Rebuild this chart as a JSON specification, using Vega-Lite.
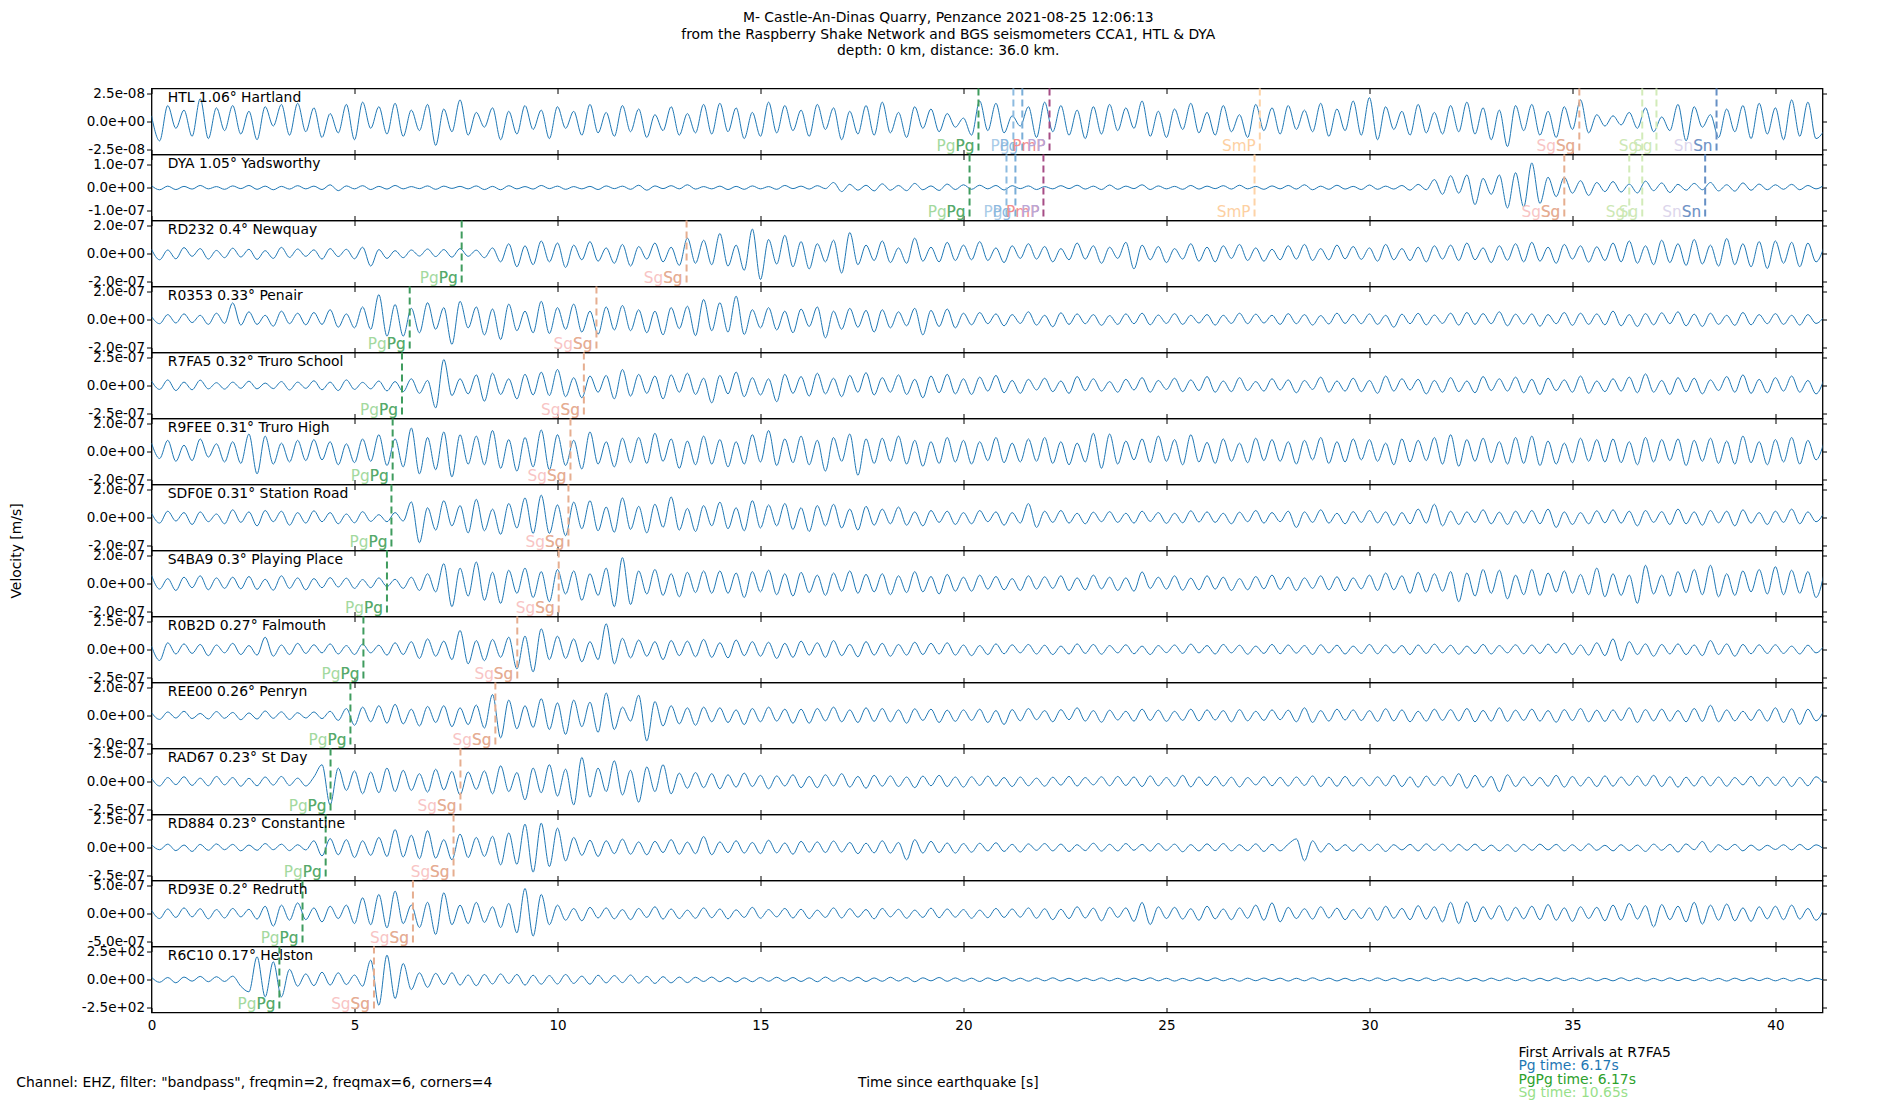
{
"$schema": "https://vega.github.io/schema/vega-lite/v6.json",
"background": "white",
"padding": {"left": 8.5, "top": 10.5, "right": 5, "bottom": 0},
"title": {"text": ["M- Castle-An-Dinas Quarry, Penzance 2021-08-25 12:06:13", "from the Raspberry Shake Network and BGS seismometers CCA1, HTL & DYA", "depth: 0 km, distance: 36.0 km."], "fontSize": 13.9, "fontWeight": "normal", "font": "DejaVu Sans", "lineHeight": 16.5, "offset": 27.5, "anchor": "middle", "dx": 30, "color": "black"},
"data": {"values": "k,t,v\n1,0,5\n1,0.2,-17\n1,0.4,14\n1,0.6,-6\n1,0.8,10\n1,1,-13\n1,1.2,20\n1,1.4,-15\n1,1.6,12\n1,1.8,-8\n1,2,14\n1,2.2,-11\n1,2.4,9\n1,2.6,-16\n1,2.8,13\n1,3,-4\n1,3.2,15\n1,3.4,-12\n1,3.6,16\n1,3.8,-9\n1,4,12\n1,4.2,-14\n1,4.4,7\n1,4.6,-10\n1,4.8,15\n1,5,-16\n1,5.2,17\n1,5.4,-6\n1,5.6,13\n1,5.8,-11\n1,6,16\n1,6.2,-13\n1,6.4,10\n1,6.6,-8\n1,6.8,15\n1,7,-21\n1,7.2,11\n1,7.4,-9\n1,7.6,19\n1,7.8,-12\n1,8,8\n1,8.2,-5\n1,8.4,12\n1,8.6,-16\n1,8.8,9\n1,9,-11\n1,9.2,14\n1,9.4,-7\n1,9.6,10\n1,9.8,-15\n1,10,13\n1,10.2,-6\n1,10.4,9\n1,10.6,-12\n1,10.8,15\n1,11,-10\n1,11.2,8\n1,11.4,-13\n1,11.6,14\n1,11.8,-9\n1,12,11\n1,12.2,-14\n1,12.4,6\n1,12.6,-8\n1,12.8,13\n1,13,-12\n1,13.2,7\n1,13.4,-10\n1,13.6,15\n1,13.8,-11\n1,14,16\n1,14.2,-9\n1,14.4,12\n1,14.6,-15\n1,14.8,8\n1,15,-13\n1,15.2,17\n1,15.4,-10\n1,15.6,14\n1,15.8,-8\n1,16,10\n1,16.2,-13\n1,16.4,15\n1,16.6,-7\n1,16.8,12\n1,17,-16\n1,17.2,9\n1,17.4,-11\n1,17.6,14\n1,17.8,-12\n1,18,17\n1,18.2,-10\n1,18.4,8\n1,18.6,-14\n1,18.8,13\n1,19,-6\n1,19.2,11\n1,19.4,-9\n1,19.6,7\n1,19.8,-5\n1,20,3\n1,20.2,-12\n1,20.4,18\n1,20.6,-8\n1,20.8,16\n1,21,-10\n1,21.2,5\n1,21.4,-4\n1,21.6,13\n1,21.8,-14\n1,22,17\n1,22.2,-9\n1,22.4,14\n1,22.6,-12\n1,22.8,10\n1,23,-15\n1,23.2,13\n1,23.4,-11\n1,23.6,15\n1,23.8,-8\n1,24,12\n1,24.2,-6\n1,24.4,18\n1,24.6,-13\n1,24.8,9\n1,25,-14\n1,25.2,11\n1,25.4,-7\n1,25.6,16\n1,25.8,-10\n1,26,8\n1,26.2,-12\n1,26.4,14\n1,26.6,-9\n1,26.8,6\n1,27,-14\n1,27.2,15\n1,27.4,-8\n1,27.6,12\n1,27.8,-11\n1,28,14\n1,28.2,-7\n1,28.4,10\n1,28.6,-9\n1,28.8,16\n1,29,-13\n1,29.2,11\n1,29.4,-8\n1,29.6,18\n1,29.8,-12\n1,30,21\n1,30.2,-16\n1,30.4,13\n1,30.6,-7\n1,30.8,9\n1,31,-12\n1,31.2,15\n1,31.4,-10\n1,31.6,8\n1,31.8,-11\n1,32,14\n1,32.2,-9\n1,32.4,17\n1,32.6,-11\n1,32.8,12\n1,33,-16\n1,33.2,10\n1,33.4,-22\n1,33.6,14\n1,33.8,-8\n1,34,15\n1,34.2,-12\n1,34.4,9\n1,34.6,-14\n1,34.8,13\n1,35,-7\n1,35.2,19\n1,35.4,-10\n1,35.6,6\n1,35.8,-4\n1,36,5\n1,36.2,-3\n1,36.4,8\n1,36.6,-6\n1,36.8,12\n1,37,-9\n1,37.2,4\n1,37.4,-8\n1,37.6,15\n1,37.8,-17\n1,38,13\n1,38.2,-5\n1,38.4,6\n1,38.6,-14\n1,38.8,11\n1,39,-9\n1,39.2,14\n1,39.4,-15\n1,39.6,16\n1,39.8,-11\n1,40,12\n1,40.2,-16\n1,40.4,19\n1,40.6,-13\n1,40.8,17\n1,41,-15\n1,41.2,-8\n2,0,8\n2,0.2,-10\n2,0.4,6\n2,0.6,-9\n2,0.8,5\n2,1,-7\n2,1.2,9\n2,1.4,-6\n2,1.6,4\n2,1.8,-8\n2,2,7\n2,2.2,-5\n2,2.4,9\n2,2.6,-8\n2,2.8,6\n2,3,-10\n2,3.2,5\n2,3.4,-7\n2,3.6,8\n2,3.8,-6\n2,4,6\n2,4.2,-9\n2,4.4,12\n2,4.6,-14\n2,4.8,7\n2,5,-6\n2,5.2,8\n2,5.4,-9\n2,5.6,5\n2,5.8,-7\n2,6,9\n2,6.2,-6\n2,6.4,4\n2,6.6,-5\n2,6.8,7\n2,7,-8\n2,7.2,6\n2,7.4,-4\n2,7.6,5\n2,7.8,-6\n2,8,7\n2,8.2,-9\n2,8.4,5\n2,8.6,-10\n2,8.8,8\n2,9,-6\n2,9.2,4\n2,9.4,-7\n2,9.6,9\n2,9.8,-5\n2,10,6\n2,10.2,-8\n2,10.4,4\n2,10.6,-6\n2,10.8,5\n2,11,-9\n2,11.2,7\n2,11.4,-5\n2,11.6,6\n2,11.8,-8\n2,12,10\n2,12.2,-12\n2,12.4,7\n2,12.6,-5\n2,12.8,8\n2,13,-6\n2,13.2,12\n2,13.4,-7\n2,13.6,4\n2,13.8,-6\n2,14,6\n2,14.2,-9\n2,14.4,5\n2,14.6,-8\n2,14.8,7\n2,15,-6\n2,15.2,4\n2,15.4,-8\n2,15.6,9\n2,15.8,-5\n2,16,6\n2,16.2,-7\n2,16.4,8\n2,16.6,-5\n2,16.8,22\n2,17,-18\n2,17.2,14\n2,17.4,-12\n2,17.6,10\n2,17.8,-15\n2,18,16\n2,18.2,-12\n2,18.4,9\n2,18.6,-14\n2,18.8,18\n2,19,-10\n2,19.2,7\n2,19.4,-13\n2,19.6,15\n2,19.8,-9\n2,20,12\n2,20.2,-8\n2,20.4,10\n2,20.6,-6\n2,20.8,9\n2,21,-11\n2,21.2,8\n2,21.4,-5\n2,21.6,7\n2,21.8,-9\n2,22,4\n2,22.2,-6\n2,22.4,8\n2,22.6,-5\n2,22.8,10\n2,23,-7\n2,23.2,6\n2,23.4,-9\n2,23.6,11\n2,23.8,-8\n2,24,6\n2,24.2,-5\n2,24.4,12\n2,24.6,-9\n2,24.8,7\n2,25,-6\n2,25.2,5\n2,25.4,-8\n2,25.6,9\n2,25.8,-7\n2,26,6\n2,26.2,-5\n2,26.4,8\n2,26.6,-7\n2,26.8,10\n2,27,-6\n2,27.2,5\n2,27.4,-8\n2,27.6,7\n2,27.8,-6\n2,28,9\n2,28.2,-7\n2,28.4,12\n2,28.6,-10\n2,28.8,6\n2,29,-8\n2,29.2,10\n2,29.4,-7\n2,29.6,5\n2,29.8,-9\n2,30,11\n2,30.2,-8\n2,30.4,6\n2,30.6,-7\n2,30.8,9\n2,31,-12\n2,31.2,14\n2,31.4,-10\n2,31.6,35\n2,31.8,-30\n2,32,52\n2,32.2,-25\n2,32.4,55\n2,32.6,-75\n2,32.8,40\n2,33,-30\n2,33.2,55\n2,33.4,-90\n2,33.6,65\n2,33.8,-85\n2,34,108\n2,34.2,-70\n2,34.4,45\n2,34.6,-40\n2,34.8,45\n2,35,-25\n2,35.2,30\n2,35.4,-35\n2,35.6,22\n2,35.8,-18\n2,36,26\n2,36.2,-20\n2,36.4,15\n2,36.6,-24\n2,36.8,28\n2,37,-14\n2,37.2,20\n2,37.4,-22\n2,37.6,14\n2,37.8,-12\n2,38,18\n2,38.2,-10\n2,38.4,22\n2,38.6,-15\n2,38.8,12\n2,39,-16\n2,39.2,20\n2,39.4,-12\n2,39.6,15\n2,39.8,-10\n2,40,12\n2,40.2,-8\n2,40.4,14\n2,40.6,-10\n2,40.8,9\n2,41,-6\n2,41.2,11\n3,0,30\n3,0.2,-45\n3,0.4,25\n3,0.6,-38\n3,0.8,42\n3,1,-20\n3,1.2,35\n3,1.4,-40\n3,1.6,22\n3,1.8,-30\n3,2,38\n3,2.2,-25\n3,2.4,30\n3,2.6,-42\n3,2.8,20\n3,3,-35\n3,3.2,44\n3,3.4,-28\n3,3.6,32\n3,3.8,-20\n3,4,26\n3,4.2,-40\n3,4.4,35\n3,4.6,-22\n3,4.8,30\n3,5,-38\n3,5.2,45\n3,5.4,-90\n3,5.6,28\n3,5.8,-35\n3,6,20\n3,6.2,-30\n3,6.4,25\n3,6.6,-18\n3,6.8,32\n3,7,-22\n3,7.2,28\n3,7.4,-26\n3,7.6,35\n3,7.8,-20\n3,8,24\n3,8.2,-30\n3,8.4,40\n3,8.6,-60\n3,8.8,70\n3,9,-95\n3,9.2,55\n3,9.4,-80\n3,9.6,90\n3,9.8,-60\n3,10,75\n3,10.2,-100\n3,10.4,60\n3,10.6,-45\n3,10.8,85\n3,11,-55\n3,11.2,40\n3,11.4,-70\n3,11.6,65\n3,11.8,-90\n3,12,50\n3,12.2,-40\n3,12.4,75\n3,12.6,-60\n3,12.8,45\n3,13,-85\n3,13.2,110\n3,13.4,-70\n3,13.6,95\n3,13.8,-80\n3,14,143\n3,14.2,-90\n3,14.4,60\n3,14.6,-120\n3,14.8,175\n3,15,-186\n3,15.2,100\n3,15.4,-75\n3,15.6,130\n3,15.8,-95\n3,16,85\n3,16.2,-110\n3,16.4,70\n3,16.6,-60\n3,16.8,95\n3,17,-140\n3,17.2,150\n3,17.4,-80\n3,17.6,60\n3,17.8,-50\n3,18,90\n3,18.2,-65\n3,18.4,40\n3,18.6,-70\n3,18.8,110\n3,19,-55\n3,19.2,45\n3,19.4,-60\n3,19.6,80\n3,19.8,-50\n3,20,60\n3,20.2,-45\n3,20.4,85\n3,20.6,-50\n3,20.8,40\n3,21,-65\n3,21.2,55\n3,21.4,-35\n3,21.6,70\n3,21.8,-40\n3,22,50\n3,22.2,-60\n3,22.4,35\n3,22.6,-45\n3,22.8,75\n3,23,-40\n3,23.2,55\n3,23.4,-70\n3,23.6,45\n3,23.8,-35\n3,24,80\n3,24.2,-110\n3,24.4,60\n3,24.6,-45\n3,24.8,50\n3,25,-65\n3,25.2,35\n3,25.4,-40\n3,25.6,70\n3,25.8,-55\n3,26,45\n3,26.2,-60\n3,26.4,55\n3,26.6,-35\n3,26.8,65\n3,27,-50\n3,27.2,40\n3,27.4,-55\n3,27.6,30\n3,27.8,-45\n3,28,55\n3,28.2,-40\n3,28.4,65\n3,28.6,-50\n3,28.8,35\n3,29,-45\n3,29.2,60\n3,29.4,-38\n3,29.6,50\n3,29.8,-42\n3,30,40\n3,30.2,-55\n3,30.4,65\n3,30.6,-45\n3,30.8,35\n3,31,-50\n3,31.2,45\n3,31.4,-60\n3,31.6,55\n3,31.8,-40\n3,32,60\n3,32.2,-50\n3,32.4,75\n3,32.6,-45\n3,32.8,40\n3,33,-65\n3,33.2,55\n3,33.4,-48\n3,33.6,70\n3,33.8,-60\n3,34,80\n3,34.2,-55\n3,34.4,45\n3,34.6,-70\n3,34.8,65\n3,35,-40\n3,35.2,55\n3,35.4,-62\n3,35.6,48\n3,35.8,-50\n3,36,75\n3,36.2,-60\n3,36.4,90\n3,36.6,-70\n3,36.8,55\n3,37,-80\n3,37.2,95\n3,37.4,-65\n3,37.6,70\n3,37.8,-85\n3,38,100\n3,38.2,-75\n3,38.4,60\n3,38.6,-90\n3,38.8,107\n3,39,-80\n3,39.2,70\n3,39.4,-95\n3,39.6,85\n3,39.8,-107\n3,40,90\n3,40.2,-70\n3,40.4,80\n3,40.6,-95\n3,40.8,75\n3,41,-60\n3,41.2,50\n4,0,20\n4,0.2,-30\n4,0.4,35\n4,0.6,-25\n4,0.8,40\n4,1,-22\n4,1.2,30\n4,1.4,-35\n4,1.6,45\n4,1.8,-28\n4,2,119\n4,2.2,-40\n4,2.4,55\n4,2.6,-35\n4,2.8,30\n4,3,-48\n4,3.2,60\n4,3.4,-30\n4,3.6,45\n4,3.8,-38\n4,4,50\n4,4.2,-35\n4,4.4,70\n4,4.6,-55\n4,4.8,40\n4,5,-60\n4,5.2,90\n4,5.4,-70\n4,5.6,178\n4,5.8,-119\n4,6,107\n4,6.2,-119\n4,6.4,80\n4,6.6,-95\n4,6.8,120\n4,7,-70\n4,7.2,85\n4,7.4,-178\n4,7.6,130\n4,7.8,-60\n4,8,90\n4,8.2,-110\n4,8.4,75\n4,8.6,-143\n4,8.8,110\n4,9,-80\n4,9.2,60\n4,9.4,-95\n4,9.6,130\n4,9.8,-100\n4,10,85\n4,10.2,-70\n4,10.4,110\n4,10.6,-90\n4,10.8,60\n4,11,-105\n4,11.2,90\n4,11.4,-75\n4,11.6,100\n4,11.8,-80\n4,12,70\n4,12.2,-95\n4,12.4,60\n4,12.6,-110\n4,12.8,85\n4,13,-65\n4,13.2,95\n4,13.4,-115\n4,13.6,143\n4,13.8,-80\n4,14,120\n4,14.2,-90\n4,14.4,167\n4,14.6,-107\n4,14.8,70\n4,15,-60\n4,15.2,85\n4,15.4,-75\n4,15.6,60\n4,15.8,-95\n4,16,75\n4,16.2,-50\n4,16.4,90\n4,16.6,-131\n4,16.8,60\n4,17,-70\n4,17.2,80\n4,17.4,-55\n4,17.6,65\n4,17.8,-90\n4,18,70\n4,18.2,-60\n4,18.4,55\n4,18.6,-45\n4,18.8,80\n4,19,-110\n4,19.2,65\n4,19.4,-50\n4,19.6,75\n4,19.8,-60\n4,20,45\n4,20.2,-38\n4,20.4,50\n4,20.6,-30\n4,20.8,40\n4,21,-45\n4,21.2,35\n4,21.4,-28\n4,21.6,55\n4,21.8,-40\n4,22,30\n4,22.2,-52\n4,22.4,48\n4,22.6,-35\n4,22.8,40\n4,23,-30\n4,23.2,35\n4,23.4,-42\n4,23.6,28\n4,23.8,-35\n4,24,40\n4,24.2,-30\n4,24.4,45\n4,24.6,-38\n4,24.8,32\n4,25,-28\n4,25.2,42\n4,25.4,-35\n4,25.6,30\n4,25.8,-25\n4,26,35\n4,26.2,-40\n4,26.4,30\n4,26.6,-28\n4,26.8,45\n4,27,-30\n4,27.2,38\n4,27.4,-25\n4,27.6,30\n4,27.8,-35\n4,28,42\n4,28.2,-30\n4,28.4,35\n4,28.6,-40\n4,28.8,28\n4,29,-32\n4,29.2,45\n4,29.4,-28\n4,29.6,36\n4,29.8,-30\n4,30,40\n4,30.2,-35\n4,30.4,30\n4,30.6,-55\n4,30.8,38\n4,31,-30\n4,31.2,44\n4,31.4,-38\n4,31.6,32\n4,31.8,-28\n4,32,45\n4,32.2,-40\n4,32.4,50\n4,32.6,-35\n4,32.8,42\n4,33,-30\n4,33.2,55\n4,33.4,-45\n4,33.6,38\n4,33.8,-32\n4,34,40\n4,34.2,-48\n4,34.4,35\n4,34.6,-30\n4,34.8,50\n4,35,-42\n4,35.2,45\n4,35.4,-35\n4,35.6,40\n4,35.8,-38\n4,36,60\n4,36.2,-45\n4,36.4,35\n4,36.6,-50\n4,36.8,42\n4,37,-38\n4,37.2,48\n4,37.4,-30\n4,37.6,55\n4,37.8,-45\n4,38,38\n4,38.2,-50\n4,38.4,45\n4,38.6,-35\n4,38.8,30\n4,39,-42\n4,39.2,50\n4,39.4,-38\n4,39.6,35\n4,39.8,-30\n4,40,42\n4,40.2,-35\n4,40.4,30\n4,40.6,-40\n4,40.8,35\n4,41,-28\n4,41.2,20\n5,0,40\n5,0.2,-35\n5,0.4,50\n5,0.6,-45\n5,0.8,30\n5,1,-38\n5,1.2,48\n5,1.4,-30\n5,1.6,25\n5,1.8,-32\n5,2,30\n5,2.2,-25\n5,2.4,38\n5,2.6,-30\n5,2.8,22\n5,3,-28\n5,3.2,35\n5,3.4,-40\n5,3.6,30\n5,3.8,-25\n5,4,42\n5,4.2,-38\n5,4.4,30\n5,4.6,-45\n5,4.8,50\n5,5,-35\n5,5.2,28\n5,5.4,-30\n5,5.6,40\n5,5.8,-48\n5,6,35\n5,6.2,-55\n5,6.4,60\n5,6.6,-70\n5,6.8,45\n5,7,-200\n5,7.2,232\n5,7.4,-90\n5,7.6,60\n5,7.8,-75\n5,8,95\n5,8.2,-140\n5,8.4,110\n5,8.6,-80\n5,8.8,60\n5,9,-120\n5,9.2,100\n5,9.4,-85\n5,9.6,120\n5,9.8,-90\n5,10,143\n5,10.2,-100\n5,10.4,70\n5,10.6,-110\n5,10.8,85\n5,11,-60\n5,11.2,90\n5,11.4,-120\n5,11.6,143\n5,11.8,-95\n5,12,100\n5,12.2,-70\n5,12.4,85\n5,12.6,-120\n5,12.8,95\n5,13,-60\n5,13.2,110\n5,13.4,-80\n5,13.6,65\n5,13.8,-155\n5,14,90\n5,14.2,-75\n5,14.4,120\n5,14.6,-100\n5,14.8,70\n5,15,-85\n5,15.2,60\n5,15.4,-145\n5,15.6,100\n5,15.8,-70\n5,16,80\n5,16.2,-95\n5,16.4,110\n5,16.6,-75\n5,16.8,65\n5,17,-100\n5,17.2,90\n5,17.4,-60\n5,17.6,115\n5,17.8,-85\n5,18,70\n5,18.2,-60\n5,18.4,95\n5,18.6,-80\n5,18.8,55\n5,19,-110\n5,19.2,85\n5,19.4,-65\n5,19.6,100\n5,19.8,-75\n5,20,60\n5,20.2,-80\n5,20.4,75\n5,20.6,-50\n5,20.8,90\n5,21,-65\n5,21.2,45\n5,21.4,-70\n5,21.6,55\n5,21.8,-40\n5,22,65\n5,22.2,-55\n5,22.4,40\n5,22.6,-70\n5,22.8,80\n5,23,-45\n5,23.2,60\n5,23.4,-50\n5,23.6,35\n5,23.8,-60\n5,24,55\n5,24.2,-40\n5,24.4,70\n5,24.6,-60\n5,24.8,45\n5,25,-35\n5,25.2,65\n5,25.4,-55\n5,25.6,50\n5,25.8,-45\n5,26,80\n5,26.2,-60\n5,26.4,40\n5,26.6,-55\n5,26.8,70\n5,27,-45\n5,27.2,35\n5,27.4,-50\n5,27.6,60\n5,27.8,-40\n5,28,50\n5,28.2,-65\n5,28.4,45\n5,28.6,-35\n5,28.8,75\n5,29,-60\n5,29.2,40\n5,29.4,-50\n5,29.6,65\n5,29.8,-55\n5,30,45\n5,30.2,-70\n5,30.4,85\n5,30.6,-50\n5,30.8,60\n5,31,-40\n5,31.2,55\n5,31.4,-75\n5,31.6,45\n5,31.8,-60\n5,32,70\n5,32.2,-55\n5,32.4,40\n5,32.6,-65\n5,32.8,80\n5,33,-45\n5,33.2,60\n5,33.4,-50\n5,33.6,75\n5,33.8,-65\n5,34,55\n5,34.2,-80\n5,34.4,65\n5,34.6,-45\n5,34.8,50\n5,35,-60\n5,35.2,85\n5,35.4,-70\n5,35.6,40\n5,35.8,-55\n5,36,60\n5,36.2,-50\n5,36.4,75\n5,36.6,-65\n5,36.8,104\n5,37,-60\n5,37.2,45\n5,37.4,-80\n5,37.6,70\n5,37.8,-55\n5,38,65\n5,38.2,-75\n5,38.4,50\n5,38.6,-45\n5,38.8,80\n5,39,-60\n5,39.2,95\n5,39.4,-70\n5,39.6,55\n5,39.8,-65\n5,40,70\n5,40.2,-50\n5,40.4,85\n5,40.6,-60\n5,40.8,45\n5,41,-75\n5,41.2,60\n6,0,60\n6,0.2,-50\n6,0.4,80\n6,0.6,-70\n6,0.8,45\n6,1,-65\n6,1.2,90\n6,1.4,-40\n6,1.6,55\n6,1.8,-75\n6,2,70\n6,2.2,-85\n6,2.4,125\n6,2.6,-160\n6,2.8,110\n6,3,-90\n6,3.2,60\n6,3.4,-75\n6,3.6,80\n6,3.8,-65\n6,4,85\n6,4.2,-60\n6,4.4,70\n6,4.6,-95\n6,4.8,55\n6,5,-80\n6,5.2,90\n6,5.4,-70\n6,5.6,120\n6,5.8,-100\n6,6,90\n6,6.2,-110\n6,6.4,168\n6,6.6,-160\n6,6.8,100\n6,7,-130\n6,7.2,140\n6,7.4,-182\n6,7.6,120\n6,7.8,-90\n6,8,110\n6,8.2,-95\n6,8.4,150\n6,8.6,-120\n6,8.8,85\n6,9,-140\n6,9.2,100\n6,9.4,-110\n6,9.6,154\n6,9.8,-130\n6,10,120\n6,10.2,-100\n6,10.4,80\n6,10.6,-125\n6,10.8,140\n6,11,-90\n6,11.2,70\n6,11.4,-110\n6,11.6,95\n6,11.8,-80\n6,12,100\n6,12.2,-85\n6,12.4,130\n6,12.6,-70\n6,12.8,90\n6,13,-120\n6,13.2,75\n6,13.4,-95\n6,13.6,110\n6,13.8,-90\n6,14,85\n6,14.2,-110\n6,14.4,70\n6,14.6,-90\n6,14.8,120\n6,15,-75\n6,15.2,150\n6,15.4,-100\n6,15.6,90\n6,15.8,-80\n6,16,110\n6,16.2,-95\n6,16.4,80\n6,16.6,-140\n6,16.8,100\n6,17,-70\n6,17.2,125\n6,17.4,-170\n6,17.6,90\n6,17.8,-85\n6,18,95\n6,18.2,-70\n6,18.4,110\n6,18.6,-90\n6,18.8,80\n6,19,-105\n6,19.2,70\n6,19.4,-85\n6,19.6,100\n6,19.8,-75\n6,20,80\n6,20.2,-90\n6,20.4,70\n6,20.6,-65\n6,20.8,100\n6,21,-80\n6,21.2,60\n6,21.4,-75\n6,21.6,90\n6,21.8,-70\n6,22,100\n6,22.2,-85\n6,22.4,70\n6,22.6,-95\n6,22.8,60\n6,23,-75\n6,23.2,130\n6,23.4,-120\n6,23.6,125\n6,23.8,-90\n6,24,75\n6,24.2,-60\n6,24.4,90\n6,24.6,-80\n6,24.8,110\n6,25,-70\n6,25.2,85\n6,25.4,-95\n6,25.6,120\n6,25.8,-75\n6,26,65\n6,26.2,-85\n6,26.4,90\n6,26.6,-70\n6,26.8,60\n6,27,-80\n6,27.2,95\n6,27.4,-65\n6,27.6,85\n6,27.8,-70\n6,28,70\n6,28.2,-90\n6,28.4,80\n6,28.6,-60\n6,28.8,100\n6,29,-85\n6,29.2,70\n6,29.4,-75\n6,29.6,90\n6,29.8,-60\n6,30,85\n6,30.2,-70\n6,30.4,60\n6,30.6,-95\n6,30.8,90\n6,31,-75\n6,31.2,80\n6,31.4,-65\n6,31.6,100\n6,31.8,-90\n6,32,120\n6,32.2,-105\n6,32.4,85\n6,32.6,-70\n6,32.8,95\n6,33,-80\n6,33.2,70\n6,33.4,-90\n6,33.6,100\n6,33.8,-85\n6,34,110\n6,34.2,-100\n6,34.4,75\n6,34.6,-90\n6,34.8,60\n6,35,-80\n6,35.2,95\n6,35.4,-70\n6,35.6,85\n6,35.8,-75\n6,36,90\n6,36.2,-80\n6,36.4,70\n6,36.6,-95\n6,36.8,100\n6,37,-75\n6,37.2,85\n6,37.4,-65\n6,37.6,90\n6,37.8,-100\n6,38,80\n6,38.2,-70\n6,38.4,95\n6,38.6,-85\n6,38.8,75\n6,39,-90\n6,39.2,110\n6,39.4,-80\n6,39.6,70\n6,39.8,-95\n6,40,85\n6,40.2,-75\n6,40.4,100\n6,40.6,-90\n6,40.8,80\n6,41,-60\n6,41.2,70\n7,0,30\n7,0.2,-40\n7,0.4,45\n7,0.6,-25\n7,0.8,35\n7,1,-50\n7,1.2,40\n7,1.4,-30\n7,1.6,25\n7,1.8,-45\n7,2,55\n7,2.2,-35\n7,2.4,40\n7,2.6,-60\n7,2.8,50\n7,3,-30\n7,3.2,45\n7,3.4,-55\n7,3.6,35\n7,3.8,-40\n7,4,48\n7,4.2,-30\n7,4.4,35\n7,4.6,-45\n7,4.8,25\n7,5,-38\n7,5.2,42\n7,5.4,-28\n7,5.6,20\n7,5.8,-30\n7,6,35\n7,6.2,-25\n7,6.4,112\n7,6.6,-180\n7,6.8,70\n7,7,-90\n7,7.2,120\n7,7.4,-60\n7,7.6,85\n7,7.8,-110\n7,8,130\n7,8.2,-95\n7,8.4,60\n7,8.6,-120\n7,8.8,100\n7,9,-75\n7,9.2,140\n7,9.4,-114\n7,9.6,160\n7,9.8,-114\n7,10,90\n7,10.2,-130\n7,10.4,110\n7,10.6,-80\n7,10.8,120\n7,11,-95\n7,11.2,75\n7,11.4,-105\n7,11.6,140\n7,11.8,-85\n7,12,80\n7,12.2,-110\n7,12.4,95\n7,12.6,-70\n7,12.8,147\n7,13,-90\n7,13.2,65\n7,13.4,-100\n7,13.6,85\n7,13.8,-60\n7,14,110\n7,14.2,-80\n7,14.4,70\n7,14.6,-95\n7,14.8,120\n7,15,-75\n7,15.2,90\n7,15.4,-60\n7,15.6,100\n7,15.8,-85\n7,16,70\n7,16.2,-100\n7,16.4,85\n7,16.6,-60\n7,16.8,95\n7,17,-75\n7,17.2,60\n7,17.4,-90\n7,17.6,80\n7,17.8,-55\n7,18,60\n7,18.2,-45\n7,18.4,75\n7,18.6,-55\n7,18.8,40\n7,19,-60\n7,19.2,50\n7,19.4,-35\n7,19.6,45\n7,19.8,-50\n7,20,35\n7,20.2,-45\n7,20.4,50\n7,20.6,-30\n7,20.8,40\n7,21,-55\n7,21.2,35\n7,21.4,-40\n7,21.6,100\n7,21.8,-71\n7,22,45\n7,22.2,-35\n7,22.4,50\n7,22.6,-40\n7,22.8,30\n7,23,-45\n7,23.2,38\n7,23.4,-30\n7,23.6,42\n7,23.8,-35\n7,24,30\n7,24.2,-40\n7,24.4,45\n7,24.6,-28\n7,24.8,35\n7,25,-42\n7,25.2,30\n7,25.4,-38\n7,25.6,48\n7,25.8,-32\n7,26,40\n7,26.2,-35\n7,26.4,30\n7,26.6,-45\n7,26.8,38\n7,27,-30\n7,27.2,50\n7,27.4,-40\n7,27.6,35\n7,27.8,-30\n7,28,45\n7,28.2,-71\n7,28.4,40\n7,28.6,-35\n7,28.8,55\n7,29,-40\n7,29.2,30\n7,29.4,-45\n7,29.6,42\n7,29.8,-35\n7,30,50\n7,30.2,-38\n7,30.4,40\n7,30.6,-55\n7,30.8,35\n7,31,-45\n7,31.2,60\n7,31.4,-40\n7,31.6,95\n7,31.8,-60\n7,32,45\n7,32.2,-50\n7,32.4,40\n7,32.6,-35\n7,32.8,55\n7,33,-45\n7,33.2,38\n7,33.4,-50\n7,33.6,45\n7,33.8,-40\n7,34,50\n7,34.2,-45\n7,34.4,60\n7,34.6,-71\n7,34.8,40\n7,35,-50\n7,35.2,35\n7,35.4,-45\n7,35.6,48\n7,35.8,-38\n7,36,55\n7,36.2,-40\n7,36.4,45\n7,36.6,-60\n7,36.8,50\n7,37,-35\n7,37.2,42\n7,37.4,-50\n7,37.6,60\n7,37.8,-45\n7,38,40\n7,38.2,-55\n7,38.4,50\n7,38.6,-38\n7,38.8,45\n7,39,-60\n7,39.2,55\n7,39.4,-40\n7,39.6,35\n7,39.8,-50\n7,40,45\n7,40.2,-35\n7,40.4,60\n7,40.6,-45\n7,40.8,40\n7,41,-30\n7,41.2,35\n8,0,58\n8,0.2,-40\n8,0.4,35\n8,0.6,-50\n8,0.8,45\n8,1,-30\n8,1.2,55\n8,1.4,-45\n8,1.6,40\n8,1.8,-35\n8,2,45\n8,2.2,-38\n8,2.4,50\n8,2.6,-42\n8,2.8,30\n8,3,-48\n8,3.2,55\n8,3.4,-35\n8,3.6,40\n8,3.8,-45\n8,4,35\n8,4.2,-30\n8,4.4,42\n8,4.6,-25\n8,4.8,38\n8,5,-35\n8,5.2,28\n8,5.4,-30\n8,5.6,40\n8,5.8,-22\n8,6,30\n8,6.2,-35\n8,6.4,45\n8,6.6,-50\n8,6.8,70\n8,7,-60\n8,7.2,142\n8,7.4,-166\n8,7.6,110\n8,7.8,-90\n8,8,154\n8,8.2,-120\n8,8.4,80\n8,8.6,-142\n8,8.8,95\n8,9,-70\n8,9.2,110\n8,9.4,-100\n8,9.6,85\n8,9.8,-130\n8,10,100\n8,10.2,-75\n8,10.4,90\n8,10.6,-120\n8,10.8,70\n8,11,-85\n8,11.2,110\n8,11.4,-166\n8,11.6,185\n8,11.8,-150\n8,12,90\n8,12.2,-75\n8,12.4,100\n8,12.6,-85\n8,12.8,70\n8,13,-95\n8,13.2,80\n8,13.4,-65\n8,13.6,90\n8,13.8,-70\n8,14,90\n8,14.2,-70\n8,14.4,75\n8,14.6,-100\n8,14.8,85\n8,15,-60\n8,15.2,95\n8,15.4,-80\n8,15.6,70\n8,15.8,-90\n8,16,80\n8,16.2,-65\n8,16.4,60\n8,16.6,-85\n8,16.8,75\n8,17,-55\n8,17.2,90\n8,17.4,-70\n8,17.6,65\n8,17.8,-60\n8,18,70\n8,18.2,-80\n8,18.4,55\n8,18.6,-65\n8,18.8,85\n8,19,-60\n8,19.2,50\n8,19.4,-75\n8,19.6,65\n8,19.8,-55\n8,20,45\n8,20.2,-55\n8,20.4,60\n8,20.6,-40\n8,20.8,50\n8,21,-45\n8,21.2,35\n8,21.4,-50\n8,21.6,55\n8,21.8,-40\n8,22,48\n8,22.2,-35\n8,22.4,55\n8,22.6,-50\n8,22.8,40\n8,23,-45\n8,23.2,60\n8,23.4,-38\n8,23.6,45\n8,23.8,-50\n8,24,40\n8,24.2,-55\n8,24.4,83\n8,24.6,-35\n8,24.8,45\n8,25,-40\n8,25.2,55\n8,25.4,-48\n8,25.6,38\n8,25.8,-45\n8,26,55\n8,26.2,-40\n8,26.4,45\n8,26.6,-50\n8,26.8,35\n8,27,-45\n8,27.2,50\n8,27.4,-38\n8,27.6,60\n8,27.8,-42\n8,28,45\n8,28.2,-50\n8,28.4,40\n8,28.6,-35\n8,28.8,55\n8,29,-45\n8,29.2,48\n8,29.4,-52\n8,29.6,40\n8,29.8,-38\n8,30,60\n8,30.2,-50\n8,30.4,75\n8,30.6,-45\n8,30.8,55\n8,31,-70\n8,31.2,80\n8,31.4,-60\n8,31.6,70\n8,31.8,-55\n8,32,85\n8,32.2,-130\n8,32.4,75\n8,32.6,-90\n8,32.8,100\n8,33,-70\n8,33.2,95\n8,33.4,-110\n8,33.6,60\n8,33.8,-80\n8,34,100\n8,34.2,-85\n8,34.4,75\n8,34.6,-60\n8,34.8,90\n8,35,-70\n8,35.2,65\n8,35.4,-80\n8,35.6,110\n8,35.8,-95\n8,36,70\n8,36.2,-85\n8,36.4,60\n8,36.6,-142\n8,36.8,130\n8,37,-75\n8,37.2,60\n8,37.4,-90\n8,37.6,85\n8,37.8,-65\n8,38,100\n8,38.2,-80\n8,38.4,130\n8,38.6,-95\n8,38.8,70\n8,39,-85\n8,39.2,90\n8,39.4,-60\n8,39.6,100\n8,39.8,-75\n8,40,120\n8,40.2,-80\n8,40.4,95\n8,40.6,-70\n8,40.8,85\n8,41,-100\n8,41.2,75\n9,0,30\n9,0.2,-98\n9,0.4,60\n9,0.6,-40\n9,0.8,50\n9,1,-35\n9,1.2,45\n9,1.4,-55\n9,1.6,40\n9,1.8,-30\n9,2,55\n9,2.2,-45\n9,2.4,35\n9,2.6,-50\n9,2.8,110\n9,3,-60\n9,3.2,40\n9,3.4,-45\n9,3.6,55\n9,3.8,-35\n9,4,42\n9,4.2,-30\n9,4.4,50\n9,4.6,-40\n9,4.8,35\n9,5,-45\n9,5.2,48\n9,5.4,-30\n9,5.6,38\n9,5.8,-50\n9,6,60\n9,6.2,-45\n9,6.4,70\n9,6.6,-80\n9,6.8,95\n9,7,-60\n9,7.2,75\n9,7.4,-90\n9,7.6,170\n9,7.8,-128\n9,8,80\n9,8.2,-100\n9,8.4,90\n9,8.6,-70\n9,8.8,110\n9,9,-173\n9,9.2,120\n9,9.4,-200\n9,9.6,185\n9,9.8,-90\n9,10,120\n9,10.2,-80\n9,10.4,95\n9,10.6,-110\n9,10.8,70\n9,11,-90\n9,11.2,230\n9,11.4,-128\n9,11.6,100\n9,11.8,-75\n9,12,85\n9,12.2,-60\n9,12.4,70\n9,12.6,-90\n9,12.8,80\n9,13,-55\n9,13.2,75\n9,13.4,-65\n9,13.6,90\n9,13.8,-70\n9,14,60\n9,14.2,-75\n9,14.4,85\n9,14.6,-55\n9,14.8,70\n9,15,-60\n9,15.2,65\n9,15.4,-80\n9,15.6,55\n9,15.8,-70\n9,16,75\n9,16.2,-50\n9,16.4,60\n9,16.6,-70\n9,16.8,80\n9,17,-55\n9,17.2,45\n9,17.4,-65\n9,17.6,70\n9,17.8,-50\n9,18,55\n9,18.2,-60\n9,18.4,45\n9,18.6,-50\n9,18.8,65\n9,19,-45\n9,19.2,55\n9,19.4,-40\n9,19.6,60\n9,19.8,-50\n9,20,40\n9,20.2,-55\n9,20.4,35\n9,20.6,-45\n9,20.8,50\n9,21,-38\n9,21.2,42\n9,21.4,-30\n9,21.6,45\n9,21.8,-40\n9,22,38\n9,22.2,-45\n9,22.4,30\n9,22.6,-40\n9,22.8,50\n9,23,-35\n9,23.2,45\n9,23.4,-42\n9,23.6,35\n9,23.8,-30\n9,24,42\n9,24.2,-38\n9,24.4,30\n9,24.6,-45\n9,24.8,35\n9,25,-28\n9,25.2,40\n9,25.4,-35\n9,25.6,48\n9,25.8,-30\n9,26,35\n9,26.2,-40\n9,26.4,45\n9,26.6,-30\n9,26.8,38\n9,27,-42\n9,27.2,30\n9,27.4,-35\n9,27.6,45\n9,27.8,-38\n9,28,40\n9,28.2,-32\n9,28.4,35\n9,28.6,-45\n9,28.8,42\n9,29,-30\n9,29.2,38\n9,29.4,-40\n9,29.6,30\n9,29.8,-35\n9,30,45\n9,30.2,-38\n9,30.4,40\n9,30.6,-30\n9,30.8,35\n9,31,-45\n9,31.2,40\n9,31.4,-35\n9,31.6,48\n9,31.8,-30\n9,32,38\n9,32.2,-42\n9,32.4,30\n9,32.6,-35\n9,32.8,45\n9,33,-40\n9,33.2,35\n9,33.4,-30\n9,33.6,42\n9,33.8,-38\n9,34,40\n9,34.2,-35\n9,34.4,48\n9,34.6,-30\n9,34.8,55\n9,35,-45\n9,35.2,40\n9,35.4,-50\n9,35.6,60\n9,35.8,-55\n9,36,95\n9,36.2,-100\n9,36.4,70\n9,36.6,-45\n9,36.8,50\n9,37,-60\n9,37.2,45\n9,37.4,-40\n9,37.6,50\n9,37.8,-45\n9,38,40\n9,38.2,-55\n9,38.4,80\n9,38.6,-45\n9,38.8,50\n9,39,-60\n9,39.2,45\n9,39.4,-38\n9,39.6,42\n9,39.8,-35\n9,40,42\n9,40.2,-35\n9,40.4,30\n9,40.6,-40\n9,40.8,38\n9,41,-30\n9,41.2,35\n10,0,20\n10,0.2,-28\n10,0.4,25\n10,0.6,-18\n10,0.8,30\n10,1,-22\n10,1.2,15\n10,1.4,-25\n10,1.6,28\n10,1.8,-20\n10,2,22\n10,2.2,-30\n10,2.4,18\n10,2.6,-25\n10,2.8,32\n10,3,-20\n10,3.2,26\n10,3.4,-28\n10,3.6,20\n10,3.8,-18\n10,4,25\n10,4.2,-22\n10,4.4,30\n10,4.6,-35\n10,4.8,50\n10,5,-70\n10,5.2,60\n10,5.4,-45\n10,5.6,70\n10,5.8,-55\n10,6,80\n10,6.2,-60\n10,6.4,45\n10,6.6,-75\n10,6.8,65\n10,7,-50\n10,7.2,70\n10,7.4,-80\n10,7.6,55\n10,7.8,-65\n10,8,75\n10,8.2,-90\n10,8.4,150\n10,8.6,-160\n10,8.8,110\n10,9,-95\n10,9.2,70\n10,9.4,-85\n10,9.6,120\n10,9.8,-100\n10,10,90\n10,10.2,-135\n10,10.4,110\n10,10.6,-80\n10,10.8,95\n10,11,-120\n10,11.2,161\n10,11.4,-100\n10,11.6,60\n10,11.8,-40\n10,12,145\n10,12.2,-182\n10,12.4,100\n10,12.6,-75\n10,12.8,70\n10,13,-60\n10,13.2,55\n10,13.4,-70\n10,13.6,60\n10,13.8,-45\n10,14,55\n10,14.2,-50\n10,14.4,40\n10,14.6,-65\n10,14.8,50\n10,15,-45\n10,15.2,60\n10,15.4,-40\n10,15.6,45\n10,15.8,-55\n10,16,45\n10,16.2,-55\n10,16.4,50\n10,16.6,-38\n10,16.8,60\n10,17,-45\n10,17.2,40\n10,17.4,-50\n10,17.6,55\n10,17.8,-42\n10,18,50\n10,18.2,-45\n10,18.4,40\n10,18.6,-55\n10,18.8,48\n10,19,-35\n10,19.2,45\n10,19.4,-50\n10,19.6,38\n10,19.8,-42\n10,20,40\n10,20.2,-35\n10,20.4,45\n10,20.6,-50\n10,20.8,35\n10,21,-64\n10,21.2,42\n10,21.4,-38\n10,21.6,50\n10,21.8,-30\n10,22,35\n10,22.2,-45\n10,22.4,42\n10,22.6,-30\n10,22.8,55\n10,23,-40\n10,23.2,35\n10,23.4,-48\n10,23.6,38\n10,23.8,-32\n10,24,30\n10,24.2,-40\n10,24.4,45\n10,24.6,-35\n10,24.8,38\n10,25,-42\n10,25.2,30\n10,25.4,-35\n10,25.6,45\n10,25.8,-38\n10,26,40\n10,26.2,-32\n10,26.4,35\n10,26.6,-45\n10,26.8,42\n10,27,-38\n10,27.2,30\n10,27.4,-35\n10,27.6,40\n10,27.8,-30\n10,28,38\n10,28.2,-45\n10,28.4,55\n10,28.6,-50\n10,28.8,35\n10,29,-40\n10,29.2,45\n10,29.4,-32\n10,29.6,40\n10,29.8,-36\n10,30,35\n10,30.2,-42\n10,30.4,48\n10,30.6,-38\n10,30.8,40\n10,31,-45\n10,31.2,30\n10,31.4,-40\n10,31.6,45\n10,31.8,-35\n10,32,42\n10,32.2,-38\n10,32.4,50\n10,32.6,-45\n10,32.8,36\n10,33,-40\n10,33.2,55\n10,33.4,-42\n10,33.6,38\n10,33.8,-35\n10,34,45\n10,34.2,-40\n10,34.4,35\n10,34.6,-48\n10,34.8,42\n10,35,-36\n10,35.2,50\n10,35.4,-45\n10,35.6,38\n10,35.8,-42\n10,36,40\n10,36.2,-35\n10,36.4,55\n10,36.6,-50\n10,36.8,42\n10,37,-38\n10,37.2,45\n10,37.4,-40\n10,37.6,35\n10,37.8,-45\n10,38,50\n10,38.2,-42\n10,38.4,73\n10,38.6,-45\n10,38.8,40\n10,39,-38\n10,39.2,30\n10,39.4,-35\n10,39.6,42\n10,39.8,-40\n10,40,55\n10,40.2,-50\n10,40.4,48\n10,40.6,-64\n10,40.8,45\n10,41,-38\n10,41.2,40\n11,0,30\n11,0.2,-40\n11,0.4,35\n11,0.6,-28\n11,0.8,42\n11,1,-35\n11,1.2,30\n11,1.4,-38\n11,1.6,45\n11,1.8,-30\n11,2,35\n11,2.2,-42\n11,2.4,28\n11,2.6,-38\n11,2.8,40\n11,3,-32\n11,3.2,45\n11,3.4,-35\n11,3.6,30\n11,3.8,-40\n11,4,40\n11,4.2,150\n11,4.4,-209\n11,4.6,120\n11,4.8,-80\n11,5,95\n11,5.2,-110\n11,5.4,85\n11,5.6,-100\n11,5.8,120\n11,6,-90\n11,6.2,100\n11,6.4,-80\n11,6.6,70\n11,6.8,-95\n11,7,110\n11,7.2,-75\n11,7.4,90\n11,7.6,-120\n11,7.8,85\n11,8,-70\n11,8.2,95\n11,8.4,-110\n11,8.6,140\n11,8.8,-90\n11,9,80\n11,9.2,-164\n11,9.4,120\n11,9.6,-100\n11,9.8,150\n11,10,-130\n11,10.2,110\n11,10.4,-209\n11,10.6,215\n11,10.8,-140\n11,11,120\n11,11.2,-90\n11,11.4,185\n11,11.6,-120\n11,11.8,100\n11,12,-185\n11,12.2,130\n11,12.4,-90\n11,12.6,150\n11,12.8,-110\n11,13,75\n11,13.2,-60\n11,13.4,80\n11,13.6,-55\n11,13.8,70\n11,14,-65\n11,14.2,60\n11,14.4,-50\n11,14.6,75\n11,14.8,-45\n11,15,55\n11,15.2,-65\n11,15.4,50\n11,15.6,-40\n11,15.8,60\n11,16,-55\n11,16.2,45\n11,16.4,-55\n11,16.6,60\n11,16.8,-40\n11,17,70\n11,17.2,-50\n11,17.4,45\n11,17.6,-60\n11,17.8,55\n11,18,-42\n11,18.2,50\n11,18.4,-45\n11,18.6,40\n11,18.8,-55\n11,19,48\n11,19.2,-38\n11,19.4,55\n11,19.6,-45\n11,19.8,40\n11,20,-50\n11,20.2,42\n11,20.4,-35\n11,20.6,48\n11,20.8,-40\n11,21,35\n11,21.2,-45\n11,21.4,40\n11,21.6,-38\n11,21.8,30\n11,22,-42\n11,22.2,38\n11,22.4,-32\n11,22.6,45\n11,22.8,-40\n11,23,35\n11,23.2,-30\n11,23.4,42\n11,23.6,-38\n11,23.8,45\n11,24,-35\n11,24.2,40\n11,24.4,-45\n11,24.6,50\n11,24.8,-38\n11,25,35\n11,25.2,-42\n11,25.4,55\n11,25.6,-48\n11,25.8,40\n11,26,-35\n11,26.2,45\n11,26.4,-40\n11,26.6,38\n11,26.8,-48\n11,27,35\n11,27.2,-30\n11,27.4,42\n11,27.6,-38\n11,27.8,36\n11,28,-40\n11,28.2,40\n11,28.4,-35\n11,28.6,50\n11,28.8,-45\n11,29,38\n11,29.2,-42\n11,29.4,45\n11,29.6,-40\n11,29.8,35\n11,30,-38\n11,30.2,42\n11,30.4,-38\n11,30.6,55\n11,30.8,-45\n11,31,40\n11,31.2,-50\n11,31.4,48\n11,31.6,-35\n11,31.8,45\n11,32,-40\n11,32.2,70\n11,32.4,-60\n11,32.6,55\n11,32.8,-50\n11,33,45\n11,33.2,-90\n11,33.4,60\n11,33.6,-45\n11,33.8,40\n11,34,-38\n11,34.2,35\n11,34.4,-42\n11,34.6,55\n11,34.8,-50\n11,35,45\n11,35.2,-40\n11,35.4,38\n11,35.6,-45\n11,35.8,50\n11,36,-42\n11,36.2,40\n11,36.4,-35\n11,36.6,48\n11,36.8,-38\n11,37,55\n11,37.2,-45\n11,37.4,42\n11,37.6,-50\n11,37.8,38\n11,38,-40\n11,38.2,45\n11,38.4,-38\n11,38.6,40\n11,38.8,-42\n11,39,35\n11,39.2,-30\n11,39.4,45\n11,39.6,-40\n11,39.8,38\n11,40,-35\n11,40.2,40\n11,40.4,-45\n11,40.6,35\n11,40.8,-38\n11,41,42\n11,41.2,-30\n12,0,25\n12,0.2,-20\n12,0.4,30\n12,0.6,-28\n12,0.8,22\n12,1,-35\n12,1.2,28\n12,1.4,-25\n12,1.6,32\n12,1.8,-20\n12,2,28\n12,2.2,-30\n12,2.4,22\n12,2.6,-25\n12,2.8,35\n12,3,-20\n12,3.2,30\n12,3.4,-28\n12,3.6,25\n12,3.8,-22\n12,4,60\n12,4.2,-75\n12,4.4,80\n12,4.6,-65\n12,4.8,70\n12,5,-90\n12,5.2,60\n12,5.4,-70\n12,5.6,90\n12,5.8,-80\n12,6,160\n12,6.2,-85\n12,6.4,110\n12,6.6,-100\n12,6.8,150\n12,7,-95\n12,7.2,70\n12,7.4,-110\n12,7.6,120\n12,7.8,-90\n12,8,90\n12,8.2,-80\n12,8.4,100\n12,8.6,-155\n12,8.8,130\n12,9,-150\n12,9.2,209\n12,9.4,-220\n12,9.6,218\n12,9.8,-170\n12,10,173\n12,10.2,-120\n12,10.4,90\n12,10.6,-70\n12,10.8,65\n12,11,-80\n12,11.2,60\n12,11.4,-55\n12,11.6,75\n12,11.8,-60\n12,12,50\n12,12.2,-65\n12,12.4,55\n12,12.6,-45\n12,12.8,70\n12,13,-60\n12,13.2,48\n12,13.4,-55\n12,13.6,98\n12,13.8,-65\n12,14,50\n12,14.2,-45\n12,14.4,60\n12,14.6,-50\n12,14.8,45\n12,15,-55\n12,15.2,65\n12,15.4,-48\n12,15.6,40\n12,15.8,-60\n12,16,55\n12,16.2,-42\n12,16.4,50\n12,16.6,-45\n12,16.8,58\n12,17,-40\n12,17.2,45\n12,17.4,-55\n12,17.6,38\n12,17.8,-48\n12,18,60\n12,18.2,-50\n12,18.4,45\n12,18.6,-110\n12,18.8,70\n12,19,-50\n12,19.2,55\n12,19.4,-45\n12,19.6,40\n12,19.8,-50\n12,20,35\n12,20.2,-42\n12,20.4,38\n12,20.6,-30\n12,20.8,42\n12,21,-35\n12,21.2,28\n12,21.4,-40\n12,21.6,32\n12,21.8,-25\n12,22,35\n12,22.2,-30\n12,22.4,30\n12,22.6,-35\n12,22.8,25\n12,23,-28\n12,23.2,38\n12,23.4,-32\n12,23.6,28\n12,23.8,-30\n12,24,35\n12,24.2,-25\n12,24.4,28\n12,24.6,-32\n12,24.8,35\n12,25,-25\n12,25.2,30\n12,25.4,-38\n12,25.6,25\n12,25.8,-30\n12,26,32\n12,26.2,-28\n12,26.4,35\n12,26.6,-30\n12,26.8,25\n12,27,-28\n12,27.2,32\n12,27.4,-35\n12,27.6,28\n12,27.8,-30\n12,28,30\n12,28.2,77\n12,28.4,-119\n12,28.6,60\n12,28.8,-40\n12,29,35\n12,29.2,-28\n12,29.4,25\n12,29.6,-32\n12,29.8,30\n12,30,-28\n12,30.2,30\n12,30.4,-35\n12,30.6,25\n12,30.8,-22\n12,31,28\n12,31.2,-30\n12,31.4,32\n12,31.6,-25\n12,31.8,30\n12,32,-32\n12,32.2,28\n12,32.4,-25\n12,32.6,30\n12,32.8,-28\n12,33,22\n12,33.2,-30\n12,33.4,25\n12,33.6,-35\n12,33.8,28\n12,34,-25\n12,34.2,30\n12,34.4,-22\n12,34.6,28\n12,34.8,-30\n12,35,25\n12,35.2,-28\n12,35.4,32\n12,35.6,-25\n12,35.8,20\n12,36,-30\n12,36.2,25\n12,36.4,-28\n12,36.6,22\n12,36.8,-35\n12,37,30\n12,37.2,-25\n12,37.4,28\n12,37.6,-40\n12,37.8,32\n12,38,-20\n12,38.2,54\n12,38.4,-40\n12,38.6,25\n12,38.8,-22\n12,39,28\n12,39.2,-30\n12,39.4,22\n12,39.6,-25\n12,39.8,20\n12,40,-18\n12,40.2,25\n12,40.4,-22\n12,40.6,28\n12,40.8,-20\n12,41,24\n12,41.2,-18\n13,0,60\n13,0.2,-90\n13,0.4,80\n13,0.6,-70\n13,0.8,100\n13,1,-60\n13,1.2,85\n13,1.4,-95\n13,1.6,70\n13,1.8,-80\n13,2,90\n13,2.2,-60\n13,2.4,75\n13,2.6,-100\n13,2.8,130\n13,3,-226\n13,3.2,150\n13,3.4,-120\n13,3.6,190\n13,3.8,-110\n13,4,100\n13,4.2,-150\n13,4.4,130\n13,4.6,-90\n13,4.8,150\n13,5,-180\n13,5.2,280\n13,5.4,-200\n13,5.6,340\n13,5.8,-256\n13,6,400\n13,6.2,-180\n13,6.4,150\n13,6.6,-250\n13,6.8,200\n13,7,-375\n13,7.2,370\n13,7.4,-200\n13,7.6,150\n13,7.8,-180\n13,8,200\n13,8.2,-160\n13,8.4,120\n13,8.6,-250\n13,8.8,180\n13,9,-346\n13,9.2,447\n13,9.4,-405\n13,9.6,340\n13,9.8,-200\n13,10,150\n13,10.2,-120\n13,10.4,90\n13,10.6,-130\n13,10.8,110\n13,11,-80\n13,11.2,100\n13,11.4,-95\n13,11.6,70\n13,11.8,-110\n13,12,90\n13,12.2,-70\n13,12.4,120\n13,12.6,-100\n13,12.8,80\n13,13,-90\n13,13.2,60\n13,13.4,-85\n13,13.6,100\n13,13.8,-75\n13,14,80\n13,14.2,-95\n13,14.4,65\n13,14.6,-70\n13,14.8,110\n13,15,-85\n13,15.2,70\n13,15.4,-60\n13,15.6,90\n13,15.8,-80\n13,16,75\n13,16.2,-90\n13,16.4,60\n13,16.6,-70\n13,16.8,100\n13,17,-80\n13,17.2,85\n13,17.4,-65\n13,17.6,70\n13,17.8,-95\n13,18,90\n13,18.2,-60\n13,18.4,75\n13,18.6,-85\n13,18.8,60\n13,19,-70\n13,19.2,95\n13,19.4,-75\n13,19.6,80\n13,19.8,-65\n13,20,70\n13,20.2,-85\n13,20.4,60\n13,20.6,-75\n13,20.8,90\n13,21,-70\n13,21.2,80\n13,21.4,-65\n13,21.6,100\n13,21.8,-85\n13,22,85\n13,22.2,-110\n13,22.4,75\n13,22.6,-90\n13,22.8,120\n13,23,-80\n13,23.2,95\n13,23.4,-130\n13,23.6,110\n13,23.8,-70\n13,24,100\n13,24.2,-140\n13,24.4,197\n13,24.6,-197\n13,24.8,120\n13,25,-90\n13,25.2,110\n13,25.4,-100\n13,25.6,85\n13,25.8,-120\n13,26,130\n13,26.2,-95\n13,26.4,80\n13,26.6,-110\n13,26.8,100\n13,27,-85\n13,27.2,150\n13,27.4,-120\n13,27.6,190\n13,27.8,-150\n13,28,110\n13,28.2,-90\n13,28.4,85\n13,28.6,-100\n13,28.8,120\n13,29,-80\n13,29.2,95\n13,29.4,-110\n13,29.6,70\n13,29.8,-90\n13,30,100\n13,30.2,-120\n13,30.4,130\n13,30.6,-85\n13,30.8,90\n13,31,-110\n13,31.2,140\n13,31.4,-100\n13,31.6,120\n13,31.8,-150\n13,32,200\n13,32.2,-180\n13,32.4,210\n13,32.6,-150\n13,32.8,120\n13,33,-100\n13,33.2,140\n13,33.4,-130\n13,33.6,110\n13,33.8,-95\n13,34,130\n13,34.2,-110\n13,34.4,160\n13,34.6,-120\n13,34.8,100\n13,35,-140\n13,35.2,120\n13,35.4,-90\n13,35.6,110\n13,35.8,-130\n13,36,150\n13,36.2,-120\n13,36.4,180\n13,36.6,-100\n13,36.8,140\n13,37,-240\n13,37.2,160\n13,37.4,-110\n13,37.6,130\n13,37.8,-150\n13,38,200\n13,38.2,-190\n13,38.4,150\n13,38.6,-120\n13,38.8,170\n13,39,-130\n13,39.2,100\n13,39.4,-140\n13,39.6,120\n13,39.8,-95\n13,40,130\n13,40.2,-110\n13,40.4,150\n13,40.6,-100\n13,40.8,90\n13,41,-120\n13,41.2,100\n14,0,20\n14,0.2,-25\n14,0.4,18\n14,0.6,-30\n14,0.8,22\n14,1,-15\n14,1.2,28\n14,1.4,-20\n14,1.6,25\n14,1.8,-18\n14,2,30\n14,2.2,-60\n14,2.4,-110\n14,2.6,203\n14,2.8,-155\n14,3,158\n14,3.2,-155\n14,3.4,90\n14,3.6,-60\n14,3.8,50\n14,4,-55\n14,4.2,65\n14,4.4,-50\n14,4.6,60\n14,4.8,-45\n14,5,40\n14,5.2,-60\n14,5.4,173\n14,5.6,-230\n14,5.8,218\n14,6,-170\n14,6.2,143\n14,6.4,-90\n14,6.6,60\n14,6.8,-70\n14,7,55\n14,7.2,-45\n14,7.4,60\n14,7.6,-50\n14,7.8,40\n14,8,-55\n14,8.2,45\n14,8.4,-40\n14,8.6,50\n14,8.8,-35\n14,9,45\n14,9.2,-50\n14,9.4,38\n14,9.6,-42\n14,9.8,35\n14,10,-40\n14,10.2,45\n14,10.4,-35\n14,10.6,30\n14,10.8,-42\n14,11,38\n14,11.2,-30\n14,11.4,35\n14,11.6,-28\n14,11.8,40\n14,12,-32\n14,12.2,28\n14,12.4,-35\n14,12.6,25\n14,12.8,-30\n14,13,22\n14,13.2,-28\n14,13.4,20\n14,13.6,-18\n14,13.8,22\n14,14,-20\n14,14.2,18\n14,14.4,-22\n14,14.6,15\n14,14.8,-20\n14,15,18\n14,15.2,-16\n14,15.4,20\n14,15.6,-15\n14,15.8,18\n14,16,-18\n14,16.2,15\n14,16.4,-20\n14,16.6,22\n14,16.8,-16\n14,17,18\n14,17.2,-15\n14,17.4,20\n14,17.6,-18\n14,17.8,14\n14,18,-16\n14,18.2,20\n14,18.4,-14\n14,18.6,18\n14,18.8,-20\n14,19,15\n14,19.2,-12\n14,19.4,18\n14,19.6,-16\n14,19.8,14\n14,20,-15\n14,20.2,12\n14,20.4,-18\n14,20.6,14\n14,20.8,-12\n14,21,16\n14,21.2,-14\n14,21.4,12\n14,21.6,-15\n14,21.8,13\n14,22,-12\n14,22.2,15\n14,22.4,-13\n14,22.6,11\n14,22.8,-14\n14,23,12\n14,23.2,-10\n14,23.4,14\n14,23.6,-12\n14,23.8,11\n14,24,-13\n14,24.2,12\n14,24.4,-10\n14,24.6,15\n14,24.8,-12\n14,25,11\n14,25.2,-14\n14,25.4,10\n14,25.6,-12\n14,25.8,13\n14,26,-11\n14,26.2,14\n14,26.4,-12\n14,26.6,10\n14,26.8,-15\n14,27,12\n14,27.2,-11\n14,27.4,13\n14,27.6,-10\n14,27.8,12\n14,28,-14\n14,28.2,11\n14,28.4,-12\n14,28.6,15\n14,28.8,-10\n14,29,12\n14,29.2,-13\n14,29.4,11\n14,29.6,-12\n14,29.8,10\n14,30,-12\n14,30.2,14\n14,30.4,-11\n14,30.6,12\n14,30.8,-13\n14,31,10\n14,31.2,-12\n14,31.4,14\n14,31.6,-11\n14,31.8,12\n14,32,-10\n14,32.2,13\n14,32.4,-12\n14,32.6,11\n14,32.8,-14\n14,33,12\n14,33.2,-10\n14,33.4,13\n14,33.6,-11\n14,33.8,12\n14,34,-13\n14,34.2,11\n14,34.4,-12\n14,34.6,14\n14,34.8,-10\n14,35,12\n14,35.2,-11\n14,35.4,13\n14,35.6,-12\n14,35.8,10\n14,36,-12\n14,36.2,15\n14,36.4,-11\n14,36.6,12\n14,36.8,-13\n14,37,10\n14,37.2,-12\n14,37.4,14\n14,37.6,-10\n14,37.8,12\n14,38,-11\n14,38.2,13\n14,38.4,-12\n14,38.6,10\n14,38.8,-14\n14,39,12\n14,39.2,-11\n14,39.4,13\n14,39.6,-10\n14,39.8,12\n14,40,-12\n14,40.2,11\n14,40.4,-13\n14,40.6,10\n14,40.8,-12\n14,41,11\n14,41.2,-10", "format": {"type": "csv", "parse": {"k": "number", "t": "number", "v": "number"}}},
"datasets": {
"ph": [
{"k":1,"t":20.37,"ph":"PgPg"},{"k":1,"t":21.23,"ph":"Pb"},{"k":1,"t":21.45,"ph":"Pn"},{"k":1,"t":22.12,"ph":"PP"},{"k":1,"t":27.3,"ph":"SmP"},{"k":1,"t":35.17,"ph":"SgSg"},{"k":1,"t":36.72,"ph":"Sb"},{"k":1,"t":37.07,"ph":"Sb"},{"k":1,"t":38.55,"ph":"SnSn"},
{"k":2,"t":20.15,"ph":"PgPg"},{"k":2,"t":21.06,"ph":"Pb"},{"k":2,"t":21.28,"ph":"Pn"},{"k":2,"t":21.97,"ph":"PP"},{"k":2,"t":27.17,"ph":"SmP"},{"k":2,"t":34.8,"ph":"SgSg"},{"k":2,"t":36.4,"ph":"Sb"},{"k":2,"t":36.72,"ph":"Sb"},{"k":2,"t":38.27,"ph":"SnSn"},
{"k":3,"t":7.64,"ph":"PgPg"},{"k":3,"t":13.18,"ph":"SgSg"},
{"k":4,"t":6.36,"ph":"PgPg"},{"k":4,"t":10.96,"ph":"SgSg"},
{"k":5,"t":6.17,"ph":"PgPg"},{"k":5,"t":10.65,"ph":"SgSg"},
{"k":6,"t":5.94,"ph":"PgPg"},{"k":6,"t":10.32,"ph":"SgSg"},
{"k":7,"t":5.91,"ph":"PgPg"},{"k":7,"t":10.27,"ph":"SgSg"},
{"k":8,"t":5.8,"ph":"PgPg"},{"k":8,"t":10.03,"ph":"SgSg"},
{"k":9,"t":5.22,"ph":"PgPg"},{"k":9,"t":9.01,"ph":"SgSg"},
{"k":10,"t":4.9,"ph":"PgPg"},{"k":10,"t":8.47,"ph":"SgSg"},
{"k":11,"t":4.41,"ph":"PgPg"},{"k":11,"t":7.61,"ph":"SgSg"},
{"k":12,"t":4.29,"ph":"PgPg"},{"k":12,"t":7.44,"ph":"SgSg"},
{"k":13,"t":3.72,"ph":"PgPg"},{"k":13,"t":6.44,"ph":"SgSg"},
{"k":14,"t":3.15,"ph":"PgPg"},{"k":14,"t":5.48,"ph":"SgSg"}],
"lb": [
{"k":1,"t":20.37,"lab":"PgPg","c":"Pg"},{"k":1,"t":20.37,"lab":"Pg","c":"PgPg"},{"k":1,"t":21.23,"lab":"Pg","c":"Pb"},{"k":1,"t":21.45,"lab":"Pg","c":"Pn"},{"k":1,"t":22.12,"lab":"PmP","c":"PmP"},{"k":1,"t":22.12,"lab":"PP","c":"PP"},{"k":1,"t":27.3,"lab":"SmP","c":"SmP"},{"k":1,"t":35.17,"lab":"SgSg","c":"Sg"},{"k":1,"t":35.17,"lab":"Sg","c":"SgSg"},{"k":1,"t":36.72,"lab":"Sg","c":"Sb"},{"k":1,"t":37.07,"lab":"Sg","c":"Sb"},{"k":1,"t":38.55,"lab":"SnSn","c":"Sn"},{"k":1,"t":38.55,"lab":"Sn","c":"SnSn"},
{"k":2,"t":20.15,"lab":"PgPg","c":"Pg"},{"k":2,"t":20.15,"lab":"Pg","c":"PgPg"},{"k":2,"t":21.06,"lab":"Pg","c":"Pb"},{"k":2,"t":21.28,"lab":"Pg","c":"Pn"},{"k":2,"t":21.97,"lab":"PmP","c":"PmP"},{"k":2,"t":21.97,"lab":"PP","c":"PP"},{"k":2,"t":27.17,"lab":"SmP","c":"SmP"},{"k":2,"t":34.8,"lab":"SgSg","c":"Sg"},{"k":2,"t":34.8,"lab":"Sg","c":"SgSg"},{"k":2,"t":36.4,"lab":"Sg","c":"Sb"},{"k":2,"t":36.72,"lab":"Sg","c":"Sb"},{"k":2,"t":38.27,"lab":"SnSn","c":"Sn"},{"k":2,"t":38.27,"lab":"Sn","c":"SnSn"},
{"k":3,"t":7.64,"lab":"PgPg","c":"Pg"},{"k":3,"t":7.64,"lab":"Pg","c":"PgPg"},{"k":3,"t":13.18,"lab":"SgSg","c":"Sg"},{"k":3,"t":13.18,"lab":"Sg","c":"SgSg"},
{"k":4,"t":6.36,"lab":"PgPg","c":"Pg"},{"k":4,"t":6.36,"lab":"Pg","c":"PgPg"},{"k":4,"t":10.96,"lab":"SgSg","c":"Sg"},{"k":4,"t":10.96,"lab":"Sg","c":"SgSg"},
{"k":5,"t":6.17,"lab":"PgPg","c":"Pg"},{"k":5,"t":6.17,"lab":"Pg","c":"PgPg"},{"k":5,"t":10.65,"lab":"SgSg","c":"Sg"},{"k":5,"t":10.65,"lab":"Sg","c":"SgSg"},
{"k":6,"t":5.94,"lab":"PgPg","c":"Pg"},{"k":6,"t":5.94,"lab":"Pg","c":"PgPg"},{"k":6,"t":10.32,"lab":"SgSg","c":"Sg"},{"k":6,"t":10.32,"lab":"Sg","c":"SgSg"},
{"k":7,"t":5.91,"lab":"PgPg","c":"Pg"},{"k":7,"t":5.91,"lab":"Pg","c":"PgPg"},{"k":7,"t":10.27,"lab":"SgSg","c":"Sg"},{"k":7,"t":10.27,"lab":"Sg","c":"SgSg"},
{"k":8,"t":5.8,"lab":"PgPg","c":"Pg"},{"k":8,"t":5.8,"lab":"Pg","c":"PgPg"},{"k":8,"t":10.03,"lab":"SgSg","c":"Sg"},{"k":8,"t":10.03,"lab":"Sg","c":"SgSg"},
{"k":9,"t":5.22,"lab":"PgPg","c":"Pg"},{"k":9,"t":5.22,"lab":"Pg","c":"PgPg"},{"k":9,"t":9.01,"lab":"SgSg","c":"Sg"},{"k":9,"t":9.01,"lab":"Sg","c":"SgSg"},
{"k":10,"t":4.9,"lab":"PgPg","c":"Pg"},{"k":10,"t":4.9,"lab":"Pg","c":"PgPg"},{"k":10,"t":8.47,"lab":"SgSg","c":"Sg"},{"k":10,"t":8.47,"lab":"Sg","c":"SgSg"},
{"k":11,"t":4.41,"lab":"PgPg","c":"Pg"},{"k":11,"t":4.41,"lab":"Pg","c":"PgPg"},{"k":11,"t":7.61,"lab":"SgSg","c":"Sg"},{"k":11,"t":7.61,"lab":"Sg","c":"SgSg"},
{"k":12,"t":4.29,"lab":"PgPg","c":"Pg"},{"k":12,"t":4.29,"lab":"Pg","c":"PgPg"},{"k":12,"t":7.44,"lab":"SgSg","c":"Sg"},{"k":12,"t":7.44,"lab":"Sg","c":"SgSg"},
{"k":13,"t":3.72,"lab":"PgPg","c":"Pg"},{"k":13,"t":3.72,"lab":"Pg","c":"PgPg"},{"k":13,"t":6.44,"lab":"SgSg","c":"Sg"},{"k":13,"t":6.44,"lab":"Sg","c":"SgSg"},
{"k":14,"t":3.15,"lab":"PgPg","c":"Pg"},{"k":14,"t":3.15,"lab":"Pg","c":"PgPg"},{"k":14,"t":5.48,"lab":"SgSg","c":"Sg"},{"k":14,"t":5.48,"lab":"Sg","c":"SgSg"}],
"st": [
{"k":1,"name":"HTL 1.06° Hartland"},{"k":2,"name":"DYA 1.05° Yadsworthy"},{"k":3,"name":"RD232 0.4° Newquay"},{"k":4,"name":"R0353 0.33° Penair"},{"k":5,"name":"R7FA5 0.32° Truro School"},{"k":6,"name":"R9FEE 0.31° Truro High"},{"k":7,"name":"SDF0E 0.31° Station Road"},{"k":8,"name":"S4BA9 0.3° Playing Place"},{"k":9,"name":"R0B2D 0.27° Falmouth"},{"k":10,"name":"REE00 0.26° Penryn"},{"k":11,"name":"RAD67 0.23° St Day"},{"k":12,"name":"RD884 0.23° Constantine"},{"k":13,"name":"RD93E 0.2° Redruth"},{"k":14,"name":"R6C10 0.17° Helston"}]
},
"spacing": 0,
"bounds": "flush",
"vconcat": [
{"width":1671,"height":66,"layer":[
{"transform":[{"filter":"datum.k == 1"}],"mark":{"type":"line","color":"#1f77b4","strokeWidth":1,"interpolate":"monotone","clip":true},
"encoding":{"x":{"field":"t","type":"quantitative","scale":{"domain":[0,41.16],"nice":false,"zero":false},"axis":{"values":[0,5,10,15,20,25,30,35,40],"labels":false,"tickSize":-5,"title":null}},
"y":{"field":"v","type":"quantitative","scale":{"domain":[-29,29],"nice":false},"axis":{"values":[-25,0,25],"tickSize":5,"labelPadding":2,"labelExpr":"replace(replace(replace(format(datum.value*1e-9,'.1e'),'−','-'),'e-','e-0'),'e+','e+0')","title":null}}}},
{"data":{"name":"ph"},"transform":[{"filter":"datum.k == 1"}],"mark":{"type":"rule","strokeDash":[7,4],"strokeWidth":2},
"encoding":{"x":{"field":"t","type":"quantitative","scale":{"domain":[0,41.16],"nice":false,"zero":false},"axis":{"orient":"top","values":[0,5,10,15,20,25,30,35,40],"labels":false,"tickSize":-5,"title":null}},
"color":{"field":"ph","type":"nominal","scale":{"domain":["PgPg","Pb","Pn","PP","SmP","SgSg","Sb","SnSn"],"range":["#3f9c5e","#8dbbe0","#7aaed8","#a64d86","#fdd3a8","#e6ae90","#d2ebb9","#6690c5"]},"legend":null}}},
{"data":{"name":"lb"},"transform":[{"filter":"datum.k == 1"}],"mark":{"type":"text","align":"right","baseline":"bottom","dx":-4,"dy":-1,"fontSize":15.3},
"encoding":{"x":{"field":"t","type":"quantitative","scale":{"domain":[0,41.16],"nice":false,"zero":false},"axis":null},"y":{"datum":-29,"scale":{"domain":[-29,29],"nice":false},"axis":null},"text":{"field":"lab"},
"color":{"field":"c","type":"nominal","scale":{"domain":["Pg","PgPg","Pb","Pn","PmP","PP","SmP","Sg","SgSg","Sb","Sn","SnSn"],"range":["#a3d99e","#55a86c","#a9cbe7","#8cb8de","#f28e8e","#b9a7d8","#fdd0a2","#f8c4c4","#e4ad90","#cde8b4","#dcd6ec","#6f94c6"]},"legend":null}}},
{"data":{"name":"st"},"transform":[{"filter":"datum.k == 1"}],"mark":{"type":"text","align":"left","baseline":"top","dy":2,"fontSize":13.9,"color":"black"},
"encoding":{"x":{"datum":0.4,"scale":{"domain":[0,41.16],"nice":false,"zero":false},"axis":null},"y":{"datum":29,"scale":{"domain":[-29,29],"nice":false},"axis":{"orient":"right","values":[-25,0,25],"labels":false,"tickSize":4,"title":null}},"text":{"field":"name"}}}
],"resolve":{"axis":{"x":"independent","y":"independent"},"scale":{"color":"independent"}}},
{"width":1671,"height":66,"layer":[
{"transform":[{"filter":"datum.k == 2"}],"mark":{"type":"line","color":"#1f77b4","strokeWidth":1,"interpolate":"monotone","clip":true},
"encoding":{"x":{"field":"t","type":"quantitative","scale":{"domain":[0,41.16],"nice":false,"zero":false},"axis":{"values":[0,5,10,15,20,25,30,35,40],"labels":false,"tickSize":-5,"title":null}},
"y":{"field":"v","type":"quantitative","scale":{"domain":[-145,145],"nice":false},"axis":{"values":[-100,0,100],"tickSize":5,"labelPadding":2,"labelExpr":"replace(replace(replace(format(datum.value*1e-9,'.1e'),'−','-'),'e-','e-0'),'e+','e+0')","title":null}}}},
{"data":{"name":"ph"},"transform":[{"filter":"datum.k == 2"}],"mark":{"type":"rule","strokeDash":[7,4],"strokeWidth":2},
"encoding":{"x":{"field":"t","type":"quantitative","scale":{"domain":[0,41.16],"nice":false,"zero":false},"axis":{"orient":"top","values":[0,5,10,15,20,25,30,35,40],"labels":false,"tickSize":-5,"title":null}},
"color":{"field":"ph","type":"nominal","scale":{"domain":["PgPg","Pb","Pn","PP","SmP","SgSg","Sb","SnSn"],"range":["#3f9c5e","#8dbbe0","#7aaed8","#a64d86","#fdd3a8","#e6ae90","#d2ebb9","#6690c5"]},"legend":null}}},
{"data":{"name":"lb"},"transform":[{"filter":"datum.k == 2"}],"mark":{"type":"text","align":"right","baseline":"bottom","dx":-4,"dy":-1,"fontSize":15.3},
"encoding":{"x":{"field":"t","type":"quantitative","scale":{"domain":[0,41.16],"nice":false,"zero":false},"axis":null},"y":{"datum":-145,"scale":{"domain":[-145,145],"nice":false},"axis":null},"text":{"field":"lab"},
"color":{"field":"c","type":"nominal","scale":{"domain":["Pg","PgPg","Pb","Pn","PmP","PP","SmP","Sg","SgSg","Sb","Sn","SnSn"],"range":["#a3d99e","#55a86c","#a9cbe7","#8cb8de","#f28e8e","#b9a7d8","#fdd0a2","#f8c4c4","#e4ad90","#cde8b4","#dcd6ec","#6f94c6"]},"legend":null}}},
{"data":{"name":"st"},"transform":[{"filter":"datum.k == 2"}],"mark":{"type":"text","align":"left","baseline":"top","dy":2,"fontSize":13.9,"color":"black"},
"encoding":{"x":{"datum":0.4,"scale":{"domain":[0,41.16],"nice":false,"zero":false},"axis":null},"y":{"datum":145,"scale":{"domain":[-145,145],"nice":false},"axis":{"orient":"right","values":[-100,0,100],"labels":false,"tickSize":4,"title":null}},"text":{"field":"name"}}}
],"resolve":{"axis":{"x":"independent","y":"independent"},"scale":{"color":"independent"}}},
{"width":1671,"height":66,"layer":[
{"transform":[{"filter":"datum.k == 3"}],"mark":{"type":"line","color":"#1f77b4","strokeWidth":1,"interpolate":"monotone","clip":true},
"encoding":{"x":{"field":"t","type":"quantitative","scale":{"domain":[0,41.16],"nice":false,"zero":false},"axis":{"values":[0,5,10,15,20,25,30,35,40],"labels":false,"tickSize":-5,"title":null}},
"y":{"field":"v","type":"quantitative","scale":{"domain":[-236,236],"nice":false},"axis":{"values":[-200,0,200],"tickSize":5,"labelPadding":2,"labelExpr":"replace(replace(replace(format(datum.value*1e-9,'.1e'),'−','-'),'e-','e-0'),'e+','e+0')","title":null}}}},
{"data":{"name":"ph"},"transform":[{"filter":"datum.k == 3"}],"mark":{"type":"rule","strokeDash":[7,4],"strokeWidth":2},
"encoding":{"x":{"field":"t","type":"quantitative","scale":{"domain":[0,41.16],"nice":false,"zero":false},"axis":{"orient":"top","values":[0,5,10,15,20,25,30,35,40],"labels":false,"tickSize":-5,"title":null}},
"color":{"field":"ph","type":"nominal","scale":{"domain":["PgPg","SgSg"],"range":["#3f9c5e","#e6ae90"]},"legend":null}}},
{"data":{"name":"lb"},"transform":[{"filter":"datum.k == 3"}],"mark":{"type":"text","align":"right","baseline":"bottom","dx":-4,"dy":-1,"fontSize":15.3},
"encoding":{"x":{"field":"t","type":"quantitative","scale":{"domain":[0,41.16],"nice":false,"zero":false},"axis":null},"y":{"datum":-236,"scale":{"domain":[-236,236],"nice":false},"axis":null},"text":{"field":"lab"},
"color":{"field":"c","type":"nominal","scale":{"domain":["Pg","PgPg","Sg","SgSg"],"range":["#a3d99e","#55a86c","#f8c4c4","#e4ad90"]},"legend":null}}},
{"data":{"name":"st"},"transform":[{"filter":"datum.k == 3"}],"mark":{"type":"text","align":"left","baseline":"top","dy":2,"fontSize":13.9,"color":"black"},
"encoding":{"x":{"datum":0.4,"scale":{"domain":[0,41.16],"nice":false,"zero":false},"axis":null},"y":{"datum":236,"scale":{"domain":[-236,236],"nice":false},"axis":{"orient":"right","values":[-200,0,200],"labels":false,"tickSize":4,"title":null}},"text":{"field":"name"}}}
],"resolve":{"axis":{"x":"independent","y":"independent"},"scale":{"color":"independent"}}},
{"width":1671,"height":66,"layer":[
{"transform":[{"filter":"datum.k == 4"}],"mark":{"type":"line","color":"#1f77b4","strokeWidth":1,"interpolate":"monotone","clip":true},
"encoding":{"x":{"field":"t","type":"quantitative","scale":{"domain":[0,41.16],"nice":false,"zero":false},"axis":{"values":[0,5,10,15,20,25,30,35,40],"labels":false,"tickSize":-5,"title":null}},
"y":{"field":"v","type":"quantitative","scale":{"domain":[-236,236],"nice":false},"axis":{"values":[-200,0,200],"tickSize":5,"labelPadding":2,"labelExpr":"replace(replace(replace(format(datum.value*1e-9,'.1e'),'−','-'),'e-','e-0'),'e+','e+0')","title":null}}}},
{"data":{"name":"ph"},"transform":[{"filter":"datum.k == 4"}],"mark":{"type":"rule","strokeDash":[7,4],"strokeWidth":2},
"encoding":{"x":{"field":"t","type":"quantitative","scale":{"domain":[0,41.16],"nice":false,"zero":false},"axis":{"orient":"top","values":[0,5,10,15,20,25,30,35,40],"labels":false,"tickSize":-5,"title":null}},
"color":{"field":"ph","type":"nominal","scale":{"domain":["PgPg","SgSg"],"range":["#3f9c5e","#e6ae90"]},"legend":null}}},
{"data":{"name":"lb"},"transform":[{"filter":"datum.k == 4"}],"mark":{"type":"text","align":"right","baseline":"bottom","dx":-4,"dy":-1,"fontSize":15.3},
"encoding":{"x":{"field":"t","type":"quantitative","scale":{"domain":[0,41.16],"nice":false,"zero":false},"axis":null},"y":{"datum":-236,"scale":{"domain":[-236,236],"nice":false},"axis":null},"text":{"field":"lab"},
"color":{"field":"c","type":"nominal","scale":{"domain":["Pg","PgPg","Sg","SgSg"],"range":["#a3d99e","#55a86c","#f8c4c4","#e4ad90"]},"legend":null}}},
{"data":{"name":"st"},"transform":[{"filter":"datum.k == 4"}],"mark":{"type":"text","align":"left","baseline":"top","dy":2,"fontSize":13.9,"color":"black"},
"encoding":{"x":{"datum":0.4,"scale":{"domain":[0,41.16],"nice":false,"zero":false},"axis":null},"y":{"datum":236,"scale":{"domain":[-236,236],"nice":false},"axis":{"orient":"right","values":[-200,0,200],"labels":false,"tickSize":4,"title":null}},"text":{"field":"name"}}}
],"resolve":{"axis":{"x":"independent","y":"independent"},"scale":{"color":"independent"}}},
{"width":1671,"height":66,"layer":[
{"transform":[{"filter":"datum.k == 5"}],"mark":{"type":"line","color":"#1f77b4","strokeWidth":1,"interpolate":"monotone","clip":true},
"encoding":{"x":{"field":"t","type":"quantitative","scale":{"domain":[0,41.16],"nice":false,"zero":false},"axis":{"values":[0,5,10,15,20,25,30,35,40],"labels":false,"tickSize":-5,"title":null}},
"y":{"field":"v","type":"quantitative","scale":{"domain":[-295,295],"nice":false},"axis":{"values":[-250,0,250],"tickSize":5,"labelPadding":2,"labelExpr":"replace(replace(replace(format(datum.value*1e-9,'.1e'),'−','-'),'e-','e-0'),'e+','e+0')","title":null}}}},
{"data":{"name":"ph"},"transform":[{"filter":"datum.k == 5"}],"mark":{"type":"rule","strokeDash":[7,4],"strokeWidth":2},
"encoding":{"x":{"field":"t","type":"quantitative","scale":{"domain":[0,41.16],"nice":false,"zero":false},"axis":{"orient":"top","values":[0,5,10,15,20,25,30,35,40],"labels":false,"tickSize":-5,"title":null}},
"color":{"field":"ph","type":"nominal","scale":{"domain":["PgPg","SgSg"],"range":["#3f9c5e","#e6ae90"]},"legend":null}}},
{"data":{"name":"lb"},"transform":[{"filter":"datum.k == 5"}],"mark":{"type":"text","align":"right","baseline":"bottom","dx":-4,"dy":-1,"fontSize":15.3},
"encoding":{"x":{"field":"t","type":"quantitative","scale":{"domain":[0,41.16],"nice":false,"zero":false},"axis":null},"y":{"datum":-295,"scale":{"domain":[-295,295],"nice":false},"axis":null},"text":{"field":"lab"},
"color":{"field":"c","type":"nominal","scale":{"domain":["Pg","PgPg","Sg","SgSg"],"range":["#a3d99e","#55a86c","#f8c4c4","#e4ad90"]},"legend":null}}},
{"data":{"name":"st"},"transform":[{"filter":"datum.k == 5"}],"mark":{"type":"text","align":"left","baseline":"top","dy":2,"fontSize":13.9,"color":"black"},
"encoding":{"x":{"datum":0.4,"scale":{"domain":[0,41.16],"nice":false,"zero":false},"axis":null},"y":{"datum":295,"scale":{"domain":[-295,295],"nice":false},"axis":{"orient":"right","values":[-250,0,250],"labels":false,"tickSize":4,"title":null}},"text":{"field":"name"}}}
],"resolve":{"axis":{"x":"independent","y":"independent"},"scale":{"color":"independent"}}},
{"width":1671,"height":66,"layer":[
{"transform":[{"filter":"datum.k == 6"}],"mark":{"type":"line","color":"#1f77b4","strokeWidth":1,"interpolate":"monotone","clip":true},
"encoding":{"x":{"field":"t","type":"quantitative","scale":{"domain":[0,41.16],"nice":false,"zero":false},"axis":{"values":[0,5,10,15,20,25,30,35,40],"labels":false,"tickSize":-5,"title":null}},
"y":{"field":"v","type":"quantitative","scale":{"domain":[-236,236],"nice":false},"axis":{"values":[-200,0,200],"tickSize":5,"labelPadding":2,"labelExpr":"replace(replace(replace(format(datum.value*1e-9,'.1e'),'−','-'),'e-','e-0'),'e+','e+0')","title":null}}}},
{"data":{"name":"ph"},"transform":[{"filter":"datum.k == 6"}],"mark":{"type":"rule","strokeDash":[7,4],"strokeWidth":2},
"encoding":{"x":{"field":"t","type":"quantitative","scale":{"domain":[0,41.16],"nice":false,"zero":false},"axis":{"orient":"top","values":[0,5,10,15,20,25,30,35,40],"labels":false,"tickSize":-5,"title":null}},
"color":{"field":"ph","type":"nominal","scale":{"domain":["PgPg","SgSg"],"range":["#3f9c5e","#e6ae90"]},"legend":null}}},
{"data":{"name":"lb"},"transform":[{"filter":"datum.k == 6"}],"mark":{"type":"text","align":"right","baseline":"bottom","dx":-4,"dy":-1,"fontSize":15.3},
"encoding":{"x":{"field":"t","type":"quantitative","scale":{"domain":[0,41.16],"nice":false,"zero":false},"axis":null},"y":{"datum":-236,"scale":{"domain":[-236,236],"nice":false},"axis":null},"text":{"field":"lab"},
"color":{"field":"c","type":"nominal","scale":{"domain":["Pg","PgPg","Sg","SgSg"],"range":["#a3d99e","#55a86c","#f8c4c4","#e4ad90"]},"legend":null}}},
{"data":{"name":"st"},"transform":[{"filter":"datum.k == 6"}],"mark":{"type":"text","align":"left","baseline":"top","dy":2,"fontSize":13.9,"color":"black"},
"encoding":{"x":{"datum":0.4,"scale":{"domain":[0,41.16],"nice":false,"zero":false},"axis":null},"y":{"datum":236,"scale":{"domain":[-236,236],"nice":false},"axis":{"orient":"right","values":[-200,0,200],"labels":false,"tickSize":4,"title":null}},"text":{"field":"name"}}}
],"resolve":{"axis":{"x":"independent","y":"independent"},"scale":{"color":"independent"}}},
{"width":1671,"height":66,"layer":[
{"transform":[{"filter":"datum.k == 7"}],"mark":{"type":"line","color":"#1f77b4","strokeWidth":1,"interpolate":"monotone","clip":true},
"encoding":{"x":{"field":"t","type":"quantitative","scale":{"domain":[0,41.16],"nice":false,"zero":false},"axis":{"values":[0,5,10,15,20,25,30,35,40],"labels":false,"tickSize":-5,"title":null}},
"y":{"field":"v","type":"quantitative","scale":{"domain":[-236,236],"nice":false},"axis":{"values":[-200,0,200],"tickSize":5,"labelPadding":2,"labelExpr":"replace(replace(replace(format(datum.value*1e-9,'.1e'),'−','-'),'e-','e-0'),'e+','e+0')","title":"Velocity [m/s]","titleX":-135,"titleY":66,"titleAngle":270,"titleAlign":"center","titleBaseline":"middle","titleFontSize":13.9}}}},
{"data":{"name":"ph"},"transform":[{"filter":"datum.k == 7"}],"mark":{"type":"rule","strokeDash":[7,4],"strokeWidth":2},
"encoding":{"x":{"field":"t","type":"quantitative","scale":{"domain":[0,41.16],"nice":false,"zero":false},"axis":{"orient":"top","values":[0,5,10,15,20,25,30,35,40],"labels":false,"tickSize":-5,"title":null}},
"color":{"field":"ph","type":"nominal","scale":{"domain":["PgPg","SgSg"],"range":["#3f9c5e","#e6ae90"]},"legend":null}}},
{"data":{"name":"lb"},"transform":[{"filter":"datum.k == 7"}],"mark":{"type":"text","align":"right","baseline":"bottom","dx":-4,"dy":-1,"fontSize":15.3},
"encoding":{"x":{"field":"t","type":"quantitative","scale":{"domain":[0,41.16],"nice":false,"zero":false},"axis":null},"y":{"datum":-236,"scale":{"domain":[-236,236],"nice":false},"axis":null},"text":{"field":"lab"},
"color":{"field":"c","type":"nominal","scale":{"domain":["Pg","PgPg","Sg","SgSg"],"range":["#a3d99e","#55a86c","#f8c4c4","#e4ad90"]},"legend":null}}},
{"data":{"name":"st"},"transform":[{"filter":"datum.k == 7"}],"mark":{"type":"text","align":"left","baseline":"top","dy":2,"fontSize":13.9,"color":"black"},
"encoding":{"x":{"datum":0.4,"scale":{"domain":[0,41.16],"nice":false,"zero":false},"axis":null},"y":{"datum":236,"scale":{"domain":[-236,236],"nice":false},"axis":{"orient":"right","values":[-200,0,200],"labels":false,"tickSize":4,"title":null}},"text":{"field":"name"}}}
],"resolve":{"axis":{"x":"independent","y":"independent"},"scale":{"color":"independent"}}},
{"width":1671,"height":66,"layer":[
{"transform":[{"filter":"datum.k == 8"}],"mark":{"type":"line","color":"#1f77b4","strokeWidth":1,"interpolate":"monotone","clip":true},
"encoding":{"x":{"field":"t","type":"quantitative","scale":{"domain":[0,41.16],"nice":false,"zero":false},"axis":{"values":[0,5,10,15,20,25,30,35,40],"labels":false,"tickSize":-5,"title":null}},
"y":{"field":"v","type":"quantitative","scale":{"domain":[-236,236],"nice":false},"axis":{"values":[-200,0,200],"tickSize":5,"labelPadding":2,"labelExpr":"replace(replace(replace(format(datum.value*1e-9,'.1e'),'−','-'),'e-','e-0'),'e+','e+0')","title":null}}}},
{"data":{"name":"ph"},"transform":[{"filter":"datum.k == 8"}],"mark":{"type":"rule","strokeDash":[7,4],"strokeWidth":2},
"encoding":{"x":{"field":"t","type":"quantitative","scale":{"domain":[0,41.16],"nice":false,"zero":false},"axis":{"orient":"top","values":[0,5,10,15,20,25,30,35,40],"labels":false,"tickSize":-5,"title":null}},
"color":{"field":"ph","type":"nominal","scale":{"domain":["PgPg","SgSg"],"range":["#3f9c5e","#e6ae90"]},"legend":null}}},
{"data":{"name":"lb"},"transform":[{"filter":"datum.k == 8"}],"mark":{"type":"text","align":"right","baseline":"bottom","dx":-4,"dy":-1,"fontSize":15.3},
"encoding":{"x":{"field":"t","type":"quantitative","scale":{"domain":[0,41.16],"nice":false,"zero":false},"axis":null},"y":{"datum":-236,"scale":{"domain":[-236,236],"nice":false},"axis":null},"text":{"field":"lab"},
"color":{"field":"c","type":"nominal","scale":{"domain":["Pg","PgPg","Sg","SgSg"],"range":["#a3d99e","#55a86c","#f8c4c4","#e4ad90"]},"legend":null}}},
{"data":{"name":"st"},"transform":[{"filter":"datum.k == 8"}],"mark":{"type":"text","align":"left","baseline":"top","dy":2,"fontSize":13.9,"color":"black"},
"encoding":{"x":{"datum":0.4,"scale":{"domain":[0,41.16],"nice":false,"zero":false},"axis":null},"y":{"datum":236,"scale":{"domain":[-236,236],"nice":false},"axis":{"orient":"right","values":[-200,0,200],"labels":false,"tickSize":4,"title":null}},"text":{"field":"name"}}}
],"resolve":{"axis":{"x":"independent","y":"independent"},"scale":{"color":"independent"}}},
{"width":1671,"height":66,"layer":[
{"transform":[{"filter":"datum.k == 9"}],"mark":{"type":"line","color":"#1f77b4","strokeWidth":1,"interpolate":"monotone","clip":true},
"encoding":{"x":{"field":"t","type":"quantitative","scale":{"domain":[0,41.16],"nice":false,"zero":false},"axis":{"values":[0,5,10,15,20,25,30,35,40],"labels":false,"tickSize":-5,"title":null}},
"y":{"field":"v","type":"quantitative","scale":{"domain":[-295,295],"nice":false},"axis":{"values":[-250,0,250],"tickSize":5,"labelPadding":2,"labelExpr":"replace(replace(replace(format(datum.value*1e-9,'.1e'),'−','-'),'e-','e-0'),'e+','e+0')","title":null}}}},
{"data":{"name":"ph"},"transform":[{"filter":"datum.k == 9"}],"mark":{"type":"rule","strokeDash":[7,4],"strokeWidth":2},
"encoding":{"x":{"field":"t","type":"quantitative","scale":{"domain":[0,41.16],"nice":false,"zero":false},"axis":{"orient":"top","values":[0,5,10,15,20,25,30,35,40],"labels":false,"tickSize":-5,"title":null}},
"color":{"field":"ph","type":"nominal","scale":{"domain":["PgPg","SgSg"],"range":["#3f9c5e","#e6ae90"]},"legend":null}}},
{"data":{"name":"lb"},"transform":[{"filter":"datum.k == 9"}],"mark":{"type":"text","align":"right","baseline":"bottom","dx":-4,"dy":-1,"fontSize":15.3},
"encoding":{"x":{"field":"t","type":"quantitative","scale":{"domain":[0,41.16],"nice":false,"zero":false},"axis":null},"y":{"datum":-295,"scale":{"domain":[-295,295],"nice":false},"axis":null},"text":{"field":"lab"},
"color":{"field":"c","type":"nominal","scale":{"domain":["Pg","PgPg","Sg","SgSg"],"range":["#a3d99e","#55a86c","#f8c4c4","#e4ad90"]},"legend":null}}},
{"data":{"name":"st"},"transform":[{"filter":"datum.k == 9"}],"mark":{"type":"text","align":"left","baseline":"top","dy":2,"fontSize":13.9,"color":"black"},
"encoding":{"x":{"datum":0.4,"scale":{"domain":[0,41.16],"nice":false,"zero":false},"axis":null},"y":{"datum":295,"scale":{"domain":[-295,295],"nice":false},"axis":{"orient":"right","values":[-250,0,250],"labels":false,"tickSize":4,"title":null}},"text":{"field":"name"}}}
],"resolve":{"axis":{"x":"independent","y":"independent"},"scale":{"color":"independent"}}},
{"width":1671,"height":66,"layer":[
{"transform":[{"filter":"datum.k == 10"}],"mark":{"type":"line","color":"#1f77b4","strokeWidth":1,"interpolate":"monotone","clip":true},
"encoding":{"x":{"field":"t","type":"quantitative","scale":{"domain":[0,41.16],"nice":false,"zero":false},"axis":{"values":[0,5,10,15,20,25,30,35,40],"labels":false,"tickSize":-5,"title":null}},
"y":{"field":"v","type":"quantitative","scale":{"domain":[-236,236],"nice":false},"axis":{"values":[-200,0,200],"tickSize":5,"labelPadding":2,"labelExpr":"replace(replace(replace(format(datum.value*1e-9,'.1e'),'−','-'),'e-','e-0'),'e+','e+0')","title":null}}}},
{"data":{"name":"ph"},"transform":[{"filter":"datum.k == 10"}],"mark":{"type":"rule","strokeDash":[7,4],"strokeWidth":2},
"encoding":{"x":{"field":"t","type":"quantitative","scale":{"domain":[0,41.16],"nice":false,"zero":false},"axis":{"orient":"top","values":[0,5,10,15,20,25,30,35,40],"labels":false,"tickSize":-5,"title":null}},
"color":{"field":"ph","type":"nominal","scale":{"domain":["PgPg","SgSg"],"range":["#3f9c5e","#e6ae90"]},"legend":null}}},
{"data":{"name":"lb"},"transform":[{"filter":"datum.k == 10"}],"mark":{"type":"text","align":"right","baseline":"bottom","dx":-4,"dy":-1,"fontSize":15.3},
"encoding":{"x":{"field":"t","type":"quantitative","scale":{"domain":[0,41.16],"nice":false,"zero":false},"axis":null},"y":{"datum":-236,"scale":{"domain":[-236,236],"nice":false},"axis":null},"text":{"field":"lab"},
"color":{"field":"c","type":"nominal","scale":{"domain":["Pg","PgPg","Sg","SgSg"],"range":["#a3d99e","#55a86c","#f8c4c4","#e4ad90"]},"legend":null}}},
{"data":{"name":"st"},"transform":[{"filter":"datum.k == 10"}],"mark":{"type":"text","align":"left","baseline":"top","dy":2,"fontSize":13.9,"color":"black"},
"encoding":{"x":{"datum":0.4,"scale":{"domain":[0,41.16],"nice":false,"zero":false},"axis":null},"y":{"datum":236,"scale":{"domain":[-236,236],"nice":false},"axis":{"orient":"right","values":[-200,0,200],"labels":false,"tickSize":4,"title":null}},"text":{"field":"name"}}}
],"resolve":{"axis":{"x":"independent","y":"independent"},"scale":{"color":"independent"}}},
{"width":1671,"height":66,"layer":[
{"transform":[{"filter":"datum.k == 11"}],"mark":{"type":"line","color":"#1f77b4","strokeWidth":1,"interpolate":"monotone","clip":true},
"encoding":{"x":{"field":"t","type":"quantitative","scale":{"domain":[0,41.16],"nice":false,"zero":false},"axis":{"values":[0,5,10,15,20,25,30,35,40],"labels":false,"tickSize":-5,"title":null}},
"y":{"field":"v","type":"quantitative","scale":{"domain":[-295,295],"nice":false},"axis":{"values":[-250,0,250],"tickSize":5,"labelPadding":2,"labelExpr":"replace(replace(replace(format(datum.value*1e-9,'.1e'),'−','-'),'e-','e-0'),'e+','e+0')","title":null}}}},
{"data":{"name":"ph"},"transform":[{"filter":"datum.k == 11"}],"mark":{"type":"rule","strokeDash":[7,4],"strokeWidth":2},
"encoding":{"x":{"field":"t","type":"quantitative","scale":{"domain":[0,41.16],"nice":false,"zero":false},"axis":{"orient":"top","values":[0,5,10,15,20,25,30,35,40],"labels":false,"tickSize":-5,"title":null}},
"color":{"field":"ph","type":"nominal","scale":{"domain":["PgPg","SgSg"],"range":["#3f9c5e","#e6ae90"]},"legend":null}}},
{"data":{"name":"lb"},"transform":[{"filter":"datum.k == 11"}],"mark":{"type":"text","align":"right","baseline":"bottom","dx":-4,"dy":-1,"fontSize":15.3},
"encoding":{"x":{"field":"t","type":"quantitative","scale":{"domain":[0,41.16],"nice":false,"zero":false},"axis":null},"y":{"datum":-295,"scale":{"domain":[-295,295],"nice":false},"axis":null},"text":{"field":"lab"},
"color":{"field":"c","type":"nominal","scale":{"domain":["Pg","PgPg","Sg","SgSg"],"range":["#a3d99e","#55a86c","#f8c4c4","#e4ad90"]},"legend":null}}},
{"data":{"name":"st"},"transform":[{"filter":"datum.k == 11"}],"mark":{"type":"text","align":"left","baseline":"top","dy":2,"fontSize":13.9,"color":"black"},
"encoding":{"x":{"datum":0.4,"scale":{"domain":[0,41.16],"nice":false,"zero":false},"axis":null},"y":{"datum":295,"scale":{"domain":[-295,295],"nice":false},"axis":{"orient":"right","values":[-250,0,250],"labels":false,"tickSize":4,"title":null}},"text":{"field":"name"}}}
],"resolve":{"axis":{"x":"independent","y":"independent"},"scale":{"color":"independent"}}},
{"width":1671,"height":66,"layer":[
{"transform":[{"filter":"datum.k == 12"}],"mark":{"type":"line","color":"#1f77b4","strokeWidth":1,"interpolate":"monotone","clip":true},
"encoding":{"x":{"field":"t","type":"quantitative","scale":{"domain":[0,41.16],"nice":false,"zero":false},"axis":{"values":[0,5,10,15,20,25,30,35,40],"labels":false,"tickSize":-5,"title":null}},
"y":{"field":"v","type":"quantitative","scale":{"domain":[-295,295],"nice":false},"axis":{"values":[-250,0,250],"tickSize":5,"labelPadding":2,"labelExpr":"replace(replace(replace(format(datum.value*1e-9,'.1e'),'−','-'),'e-','e-0'),'e+','e+0')","title":null}}}},
{"data":{"name":"ph"},"transform":[{"filter":"datum.k == 12"}],"mark":{"type":"rule","strokeDash":[7,4],"strokeWidth":2},
"encoding":{"x":{"field":"t","type":"quantitative","scale":{"domain":[0,41.16],"nice":false,"zero":false},"axis":{"orient":"top","values":[0,5,10,15,20,25,30,35,40],"labels":false,"tickSize":-5,"title":null}},
"color":{"field":"ph","type":"nominal","scale":{"domain":["PgPg","SgSg"],"range":["#3f9c5e","#e6ae90"]},"legend":null}}},
{"data":{"name":"lb"},"transform":[{"filter":"datum.k == 12"}],"mark":{"type":"text","align":"right","baseline":"bottom","dx":-4,"dy":-1,"fontSize":15.3},
"encoding":{"x":{"field":"t","type":"quantitative","scale":{"domain":[0,41.16],"nice":false,"zero":false},"axis":null},"y":{"datum":-295,"scale":{"domain":[-295,295],"nice":false},"axis":null},"text":{"field":"lab"},
"color":{"field":"c","type":"nominal","scale":{"domain":["Pg","PgPg","Sg","SgSg"],"range":["#a3d99e","#55a86c","#f8c4c4","#e4ad90"]},"legend":null}}},
{"data":{"name":"st"},"transform":[{"filter":"datum.k == 12"}],"mark":{"type":"text","align":"left","baseline":"top","dy":2,"fontSize":13.9,"color":"black"},
"encoding":{"x":{"datum":0.4,"scale":{"domain":[0,41.16],"nice":false,"zero":false},"axis":null},"y":{"datum":295,"scale":{"domain":[-295,295],"nice":false},"axis":{"orient":"right","values":[-250,0,250],"labels":false,"tickSize":4,"title":null}},"text":{"field":"name"}}}
],"resolve":{"axis":{"x":"independent","y":"independent"},"scale":{"color":"independent"}}},
{"width":1671,"height":66,"layer":[
{"transform":[{"filter":"datum.k == 13"}],"mark":{"type":"line","color":"#1f77b4","strokeWidth":1,"interpolate":"monotone","clip":true},
"encoding":{"x":{"field":"t","type":"quantitative","scale":{"domain":[0,41.16],"nice":false,"zero":false},"axis":{"values":[0,5,10,15,20,25,30,35,40],"labels":false,"tickSize":-5,"title":null}},
"y":{"field":"v","type":"quantitative","scale":{"domain":[-590,590],"nice":false},"axis":{"values":[-500,0,500],"tickSize":5,"labelPadding":2,"labelExpr":"replace(replace(replace(format(datum.value*1e-9,'.1e'),'−','-'),'e-','e-0'),'e+','e+0')","title":null}}}},
{"data":{"name":"ph"},"transform":[{"filter":"datum.k == 13"}],"mark":{"type":"rule","strokeDash":[7,4],"strokeWidth":2},
"encoding":{"x":{"field":"t","type":"quantitative","scale":{"domain":[0,41.16],"nice":false,"zero":false},"axis":{"orient":"top","values":[0,5,10,15,20,25,30,35,40],"labels":false,"tickSize":-5,"title":null}},
"color":{"field":"ph","type":"nominal","scale":{"domain":["PgPg","SgSg"],"range":["#3f9c5e","#e6ae90"]},"legend":null}}},
{"data":{"name":"lb"},"transform":[{"filter":"datum.k == 13"}],"mark":{"type":"text","align":"right","baseline":"bottom","dx":-4,"dy":-1,"fontSize":15.3},
"encoding":{"x":{"field":"t","type":"quantitative","scale":{"domain":[0,41.16],"nice":false,"zero":false},"axis":null},"y":{"datum":-590,"scale":{"domain":[-590,590],"nice":false},"axis":null},"text":{"field":"lab"},
"color":{"field":"c","type":"nominal","scale":{"domain":["Pg","PgPg","Sg","SgSg"],"range":["#a3d99e","#55a86c","#f8c4c4","#e4ad90"]},"legend":null}}},
{"data":{"name":"st"},"transform":[{"filter":"datum.k == 13"}],"mark":{"type":"text","align":"left","baseline":"top","dy":2,"fontSize":13.9,"color":"black"},
"encoding":{"x":{"datum":0.4,"scale":{"domain":[0,41.16],"nice":false,"zero":false},"axis":null},"y":{"datum":590,"scale":{"domain":[-590,590],"nice":false},"axis":{"orient":"right","values":[-500,0,500],"labels":false,"tickSize":4,"title":null}},"text":{"field":"name"}}}
],"resolve":{"axis":{"x":"independent","y":"independent"},"scale":{"color":"independent"}}},
{"width":1671,"height":66,"layer":[
{"transform":[{"filter":"datum.k == 14"}],"mark":{"type":"line","color":"#1f77b4","strokeWidth":1,"interpolate":"monotone","clip":true},
"encoding":{"x":{"field":"t","type":"quantitative","scale":{"domain":[0,41.16],"nice":false,"zero":false},"axis":{"values":[0,5,10,15,20,25,30,35,40],"labels":true,"tickSize":-5,"labelPadding":11,"labelFontSize":13.5,"title":null}},
"y":{"field":"v","type":"quantitative","scale":{"domain":[-295,295],"nice":false},"axis":{"values":[-250,0,250],"tickSize":5,"labelPadding":2,"labelExpr":"replace(replace(format(datum.value,'.1e'),'−','-'),'e+','e+0')","title":null}}}},
{"data":{"name":"ph"},"transform":[{"filter":"datum.k == 14"}],"mark":{"type":"rule","strokeDash":[7,4],"strokeWidth":2},
"encoding":{"x":{"field":"t","type":"quantitative","scale":{"domain":[0,41.16],"nice":false,"zero":false},"axis":{"orient":"top","values":[0,5,10,15,20,25,30,35,40],"labels":false,"tickSize":-5,"title":null}},
"color":{"field":"ph","type":"nominal","scale":{"domain":["PgPg","SgSg"],"range":["#3f9c5e","#e6ae90"]},"legend":null}}},
{"data":{"name":"lb"},"transform":[{"filter":"datum.k == 14"}],"mark":{"type":"text","align":"right","baseline":"bottom","dx":-4,"dy":-1,"fontSize":15.3},
"encoding":{"x":{"field":"t","type":"quantitative","scale":{"domain":[0,41.16],"nice":false,"zero":false},"axis":null},"y":{"datum":-295,"scale":{"domain":[-295,295],"nice":false},"axis":null},"text":{"field":"lab"},
"color":{"field":"c","type":"nominal","scale":{"domain":["Pg","PgPg","Sg","SgSg"],"range":["#a3d99e","#55a86c","#f8c4c4","#e4ad90"]},"legend":null}}},
{"data":{"name":"st"},"transform":[{"filter":"datum.k == 14"}],"mark":{"type":"text","align":"left","baseline":"top","dy":2,"fontSize":13.9,"color":"black"},
"encoding":{"x":{"datum":0.4,"scale":{"domain":[0,41.16],"nice":false,"zero":false},"axis":null},"y":{"datum":295,"scale":{"domain":[-295,295],"nice":false},"axis":{"orient":"right","values":[-250,0,250],"labels":false,"tickSize":4,"title":null}},"text":{"field":"name"}}}
],"resolve":{"axis":{"x":"independent","y":"independent"},"scale":{"color":"independent"}}},
{"width":1671,"height":88,"view":{"stroke":null},"layer":[
{"data":{"values":[{"txt":"Channel: EHZ, filter: \"bandpass\", freqmin=2, freqmax=6, corners=4"}]},"mark":{"type":"text","align":"left","baseline":"middle","fontSize":13.9,"color":"black"},
"encoding":{"x":{"datum":-3.33,"scale":{"domain":[0,41.16],"nice":false,"zero":false},"axis":null},"y":{"datum":7,"scale":{"domain":[0,8.8],"reverse":true,"nice":false,"zero":false},"axis":null},"text":{"field":"txt"}}},
{"data":{"values":[{"txt":"Time since earthquake [s]"}]},"mark":{"type":"text","align":"center","baseline":"middle","fontSize":13.9,"color":"black"},
"encoding":{"x":{"datum":19.63,"scale":{"domain":[0,41.16],"nice":false,"zero":false},"axis":null},"y":{"datum":7,"scale":{"domain":[0,8.8],"reverse":true,"nice":false,"zero":false},"axis":null},"text":{"field":"txt"}}},
{"data":{"values":[{"txt":"First Arrivals at R7FA5"}]},"mark":{"type":"text","align":"left","baseline":"middle","fontSize":13.9,"color":"black"},
"encoding":{"x":{"datum":33.67,"scale":{"domain":[0,41.16],"nice":false,"zero":false},"axis":null},"y":{"datum":4,"scale":{"domain":[0,8.8],"reverse":true,"nice":false,"zero":false},"axis":null},"text":{"field":"txt"}}},
{"data":{"values":[{"txt":"Pg time: 6.17s"}]},"mark":{"type":"text","align":"left","baseline":"middle","fontSize":13.9,"color":"#1f77b4"},
"encoding":{"x":{"datum":33.67,"scale":{"domain":[0,41.16],"nice":false,"zero":false},"axis":null},"y":{"datum":5.35,"scale":{"domain":[0,8.8],"reverse":true,"nice":false,"zero":false},"axis":null},"text":{"field":"txt"}}},
{"data":{"values":[{"txt":"PgPg time: 6.17s"}]},"mark":{"type":"text","align":"left","baseline":"middle","fontSize":13.9,"color":"#2ca02c"},
"encoding":{"x":{"datum":33.67,"scale":{"domain":[0,41.16],"nice":false,"zero":false},"axis":null},"y":{"datum":6.7,"scale":{"domain":[0,8.8],"reverse":true,"nice":false,"zero":false},"axis":null},"text":{"field":"txt"}}},
{"data":{"values":[{"txt":"Sg time: 10.65s"}]},"mark":{"type":"text","align":"left","baseline":"middle","fontSize":13.9,"color":"#98df8a"},
"encoding":{"x":{"datum":33.67,"scale":{"domain":[0,41.16],"nice":false,"zero":false},"axis":null},"y":{"datum":8.05,"scale":{"domain":[0,8.8],"reverse":true,"nice":false,"zero":false},"axis":null},"text":{"field":"txt"}}}
]}
],
"config": {
"font": "DejaVu Sans",
"view": {"stroke": "black", "strokeWidth": 1.3},
"concat": {"spacing": 0},
"axis": {"grid": false, "domain": false, "labelFont": "DejaVu Sans", "labelFontSize": 13.5, "labelColor": "black", "tickColor": "black", "tickWidth": 1, "labelFlush": false, "labelOverlap": false, "titleFont": "DejaVu Sans", "titleFontWeight": "normal", "titleColor": "black"},
"text": {"font": "DejaVu Sans"}
}
}
